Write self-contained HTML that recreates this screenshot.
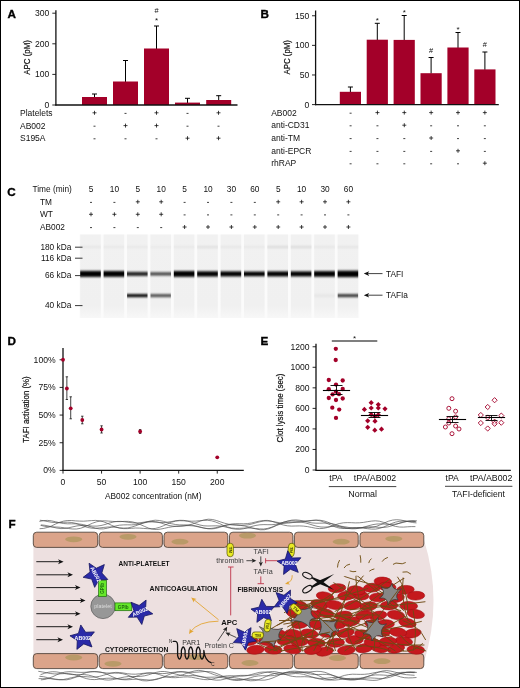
<!DOCTYPE html>
<html><head><meta charset="utf-8"><title>Figure</title>
<style>
html,body{margin:0;padding:0;background:#fff;}
body{width:520px;height:688px;overflow:hidden;}
svg{display:block;font-family:"Liberation Sans",sans-serif;will-change:transform;}
</style></head><body>
<svg width="520" height="688" viewBox="0 0 520 688">
<rect x="0" y="0" width="520" height="688" fill="#fff"/>
<text x="7.60" y="17.70" font-size="11.7" text-anchor="start" font-weight="bold" fill="#000"  stroke="#000" stroke-width="0.35">A</text>
<line x1="94.50" y1="97.50" x2="94.50" y2="94.00" stroke="#000" stroke-width="1.0" />
<line x1="92.00" y1="94.00" x2="97.00" y2="94.00" stroke="#000" stroke-width="1.0" />
<rect x="82.00" y="97.00" width="25.00" height="8.00" fill="#a30029" />
<line x1="125.50" y1="82.00" x2="125.50" y2="60.50" stroke="#000" stroke-width="1.0" />
<line x1="123.00" y1="60.50" x2="128.00" y2="60.50" stroke="#000" stroke-width="1.0" />
<rect x="113.00" y="81.50" width="25.00" height="23.50" fill="#a30029" />
<line x1="156.50" y1="49.00" x2="156.50" y2="26.00" stroke="#000" stroke-width="1.0" />
<line x1="154.00" y1="26.00" x2="159.00" y2="26.00" stroke="#000" stroke-width="1.0" />
<rect x="144.00" y="48.50" width="25.00" height="56.50" fill="#a30029" />
<line x1="187.50" y1="103.10" x2="187.50" y2="98.30" stroke="#000" stroke-width="1.0" />
<line x1="185.00" y1="98.30" x2="190.00" y2="98.30" stroke="#000" stroke-width="1.0" />
<rect x="175.00" y="102.60" width="25.00" height="2.40" fill="#a30029" />
<line x1="218.70" y1="100.50" x2="218.70" y2="95.70" stroke="#000" stroke-width="1.0" />
<line x1="216.20" y1="95.70" x2="221.20" y2="95.70" stroke="#000" stroke-width="1.0" />
<rect x="206.20" y="100.00" width="25.00" height="5.00" fill="#a30029" />
<line x1="55.90" y1="10.30" x2="55.90" y2="105.60" stroke="#111" stroke-width="1.3" />
<line x1="55.30" y1="105.00" x2="237.50" y2="105.00" stroke="#111" stroke-width="1.3" />
<line x1="52.30" y1="105.00" x2="55.90" y2="105.00" stroke="#111" stroke-width="0.9" />
<text x="49.40" y="108.00" font-size="8.6" text-anchor="end" font-weight="normal" fill="#111" >0</text>
<line x1="52.30" y1="74.40" x2="55.90" y2="74.40" stroke="#111" stroke-width="0.9" />
<text x="49.40" y="77.40" font-size="8.6" text-anchor="end" font-weight="normal" fill="#111" >100</text>
<line x1="52.30" y1="43.80" x2="55.90" y2="43.80" stroke="#111" stroke-width="0.9" />
<text x="49.40" y="46.80" font-size="8.6" text-anchor="end" font-weight="normal" fill="#111" >200</text>
<line x1="52.30" y1="13.20" x2="55.90" y2="13.20" stroke="#111" stroke-width="0.9" />
<text x="49.40" y="16.20" font-size="8.6" text-anchor="end" font-weight="normal" fill="#111" >300</text>
<text transform="translate(29.80,74.70) rotate(-90)" font-size="9.6" textLength="34.6" lengthAdjust="spacingAndGlyphs" fill="#111" stroke="#111" stroke-width="0.2">APC (pM)</text>
<text x="156.50" y="13.40" font-size="7.4" text-anchor="middle" font-weight="normal" fill="#111" >#</text>
<text x="156.50" y="23.00" font-size="8" text-anchor="middle" font-weight="normal" fill="#111" >*</text>
<text x="20.00" y="115.80" font-size="8.5" text-anchor="start" font-weight="normal" fill="#111" >Platelets</text>
<line x1="92.50" y1="112.80" x2="96.50" y2="112.80" stroke="#111" stroke-width="0.8" />
<line x1="94.50" y1="110.80" x2="94.50" y2="114.80" stroke="#111" stroke-width="0.8" />
<line x1="124.50" y1="113.40" x2="126.50" y2="113.40" stroke="#111" stroke-width="0.8" />
<line x1="154.50" y1="112.80" x2="158.50" y2="112.80" stroke="#111" stroke-width="0.8" />
<line x1="156.50" y1="110.80" x2="156.50" y2="114.80" stroke="#111" stroke-width="0.8" />
<line x1="186.50" y1="113.40" x2="188.50" y2="113.40" stroke="#111" stroke-width="0.8" />
<line x1="216.50" y1="112.80" x2="220.50" y2="112.80" stroke="#111" stroke-width="0.8" />
<line x1="218.50" y1="110.80" x2="218.50" y2="114.80" stroke="#111" stroke-width="0.8" />
<text x="20.00" y="128.60" font-size="8.5" text-anchor="start" font-weight="normal" fill="#111" >AB002</text>
<line x1="93.50" y1="126.20" x2="95.50" y2="126.20" stroke="#111" stroke-width="0.8" />
<line x1="123.50" y1="125.60" x2="127.50" y2="125.60" stroke="#111" stroke-width="0.8" />
<line x1="125.50" y1="123.60" x2="125.50" y2="127.60" stroke="#111" stroke-width="0.8" />
<line x1="154.50" y1="125.60" x2="158.50" y2="125.60" stroke="#111" stroke-width="0.8" />
<line x1="156.50" y1="123.60" x2="156.50" y2="127.60" stroke="#111" stroke-width="0.8" />
<line x1="186.50" y1="126.20" x2="188.50" y2="126.20" stroke="#111" stroke-width="0.8" />
<line x1="217.50" y1="126.20" x2="219.50" y2="126.20" stroke="#111" stroke-width="0.8" />
<text x="20.00" y="141.20" font-size="8.5" text-anchor="start" font-weight="normal" fill="#111" >S195A</text>
<line x1="93.50" y1="138.80" x2="95.50" y2="138.80" stroke="#111" stroke-width="0.8" />
<line x1="124.50" y1="138.80" x2="126.50" y2="138.80" stroke="#111" stroke-width="0.8" />
<line x1="155.50" y1="138.80" x2="157.50" y2="138.80" stroke="#111" stroke-width="0.8" />
<line x1="185.50" y1="138.20" x2="189.50" y2="138.20" stroke="#111" stroke-width="0.8" />
<line x1="187.50" y1="136.20" x2="187.50" y2="140.20" stroke="#111" stroke-width="0.8" />
<line x1="216.50" y1="138.20" x2="220.50" y2="138.20" stroke="#111" stroke-width="0.8" />
<line x1="218.50" y1="136.20" x2="218.50" y2="140.20" stroke="#111" stroke-width="0.8" />
<text x="260.40" y="17.60" font-size="11.7" text-anchor="start" font-weight="bold" fill="#000"  stroke="#000" stroke-width="0.35">B</text>
<line x1="350.40" y1="92.30" x2="350.40" y2="87.00" stroke="#000" stroke-width="1.0" />
<line x1="347.90" y1="87.00" x2="352.90" y2="87.00" stroke="#000" stroke-width="1.0" />
<rect x="339.80" y="91.80" width="21.20" height="12.80" fill="#a30029" />
<line x1="377.30" y1="40.20" x2="377.30" y2="23.30" stroke="#000" stroke-width="1.0" />
<line x1="374.80" y1="23.30" x2="379.80" y2="23.30" stroke="#000" stroke-width="1.0" />
<rect x="366.70" y="39.70" width="21.20" height="64.90" fill="#a30029" />
<text x="377.30" y="23.10" font-size="8" text-anchor="middle" font-weight="normal" fill="#111" >*</text>
<line x1="404.20" y1="40.40" x2="404.20" y2="15.50" stroke="#000" stroke-width="1.0" />
<line x1="401.70" y1="15.50" x2="406.70" y2="15.50" stroke="#000" stroke-width="1.0" />
<rect x="393.60" y="39.90" width="21.20" height="64.70" fill="#a30029" />
<text x="404.20" y="15.30" font-size="8" text-anchor="middle" font-weight="normal" fill="#111" >*</text>
<line x1="431.10" y1="73.70" x2="431.10" y2="57.50" stroke="#000" stroke-width="1.0" />
<line x1="428.60" y1="57.50" x2="433.60" y2="57.50" stroke="#000" stroke-width="1.0" />
<rect x="420.50" y="73.20" width="21.20" height="31.40" fill="#a30029" />
<text x="431.10" y="52.70" font-size="7.4" text-anchor="middle" font-weight="normal" fill="#111" >#</text>
<line x1="458.00" y1="48.00" x2="458.00" y2="32.50" stroke="#000" stroke-width="1.0" />
<line x1="455.50" y1="32.50" x2="460.50" y2="32.50" stroke="#000" stroke-width="1.0" />
<rect x="447.40" y="47.50" width="21.20" height="57.10" fill="#a30029" />
<text x="458.00" y="32.30" font-size="8" text-anchor="middle" font-weight="normal" fill="#111" >*</text>
<line x1="484.90" y1="69.90" x2="484.90" y2="52.00" stroke="#000" stroke-width="1.0" />
<line x1="482.40" y1="52.00" x2="487.40" y2="52.00" stroke="#000" stroke-width="1.0" />
<rect x="474.30" y="69.40" width="21.20" height="35.20" fill="#a30029" />
<text x="484.90" y="47.20" font-size="7.4" text-anchor="middle" font-weight="normal" fill="#111" >#</text>
<line x1="315.60" y1="10.50" x2="315.60" y2="105.20" stroke="#111" stroke-width="1.3" />
<line x1="315.00" y1="104.60" x2="498.80" y2="104.60" stroke="#111" stroke-width="1.3" />
<line x1="312.00" y1="104.60" x2="315.60" y2="104.60" stroke="#111" stroke-width="0.9" />
<text x="309.30" y="107.60" font-size="8.6" text-anchor="end" font-weight="normal" fill="#111" >0</text>
<line x1="312.00" y1="74.98" x2="315.60" y2="74.98" stroke="#111" stroke-width="0.9" />
<text x="309.30" y="77.98" font-size="8.6" text-anchor="end" font-weight="normal" fill="#111" >50</text>
<line x1="312.00" y1="45.37" x2="315.60" y2="45.37" stroke="#111" stroke-width="0.9" />
<text x="309.30" y="48.37" font-size="8.6" text-anchor="end" font-weight="normal" fill="#111" >100</text>
<line x1="312.00" y1="15.75" x2="315.60" y2="15.75" stroke="#111" stroke-width="0.9" />
<text x="309.30" y="18.75" font-size="8.6" text-anchor="end" font-weight="normal" fill="#111" >150</text>
<text transform="translate(289.80,74.60) rotate(-90)" font-size="9.6" textLength="34.6" lengthAdjust="spacingAndGlyphs" fill="#111" stroke="#111" stroke-width="0.2">APC (pM)</text>
<text x="271.20" y="115.60" font-size="8.5" text-anchor="start" font-weight="normal" fill="#111" >AB002</text>
<line x1="349.60" y1="113.20" x2="351.60" y2="113.20" stroke="#111" stroke-width="0.8" />
<line x1="375.45" y1="112.60" x2="379.45" y2="112.60" stroke="#111" stroke-width="0.8" />
<line x1="377.45" y1="110.60" x2="377.45" y2="114.60" stroke="#111" stroke-width="0.8" />
<line x1="402.30" y1="112.60" x2="406.30" y2="112.60" stroke="#111" stroke-width="0.8" />
<line x1="404.30" y1="110.60" x2="404.30" y2="114.60" stroke="#111" stroke-width="0.8" />
<line x1="429.15" y1="112.60" x2="433.15" y2="112.60" stroke="#111" stroke-width="0.8" />
<line x1="431.15" y1="110.60" x2="431.15" y2="114.60" stroke="#111" stroke-width="0.8" />
<line x1="456.00" y1="112.60" x2="460.00" y2="112.60" stroke="#111" stroke-width="0.8" />
<line x1="458.00" y1="110.60" x2="458.00" y2="114.60" stroke="#111" stroke-width="0.8" />
<line x1="482.85" y1="112.60" x2="486.85" y2="112.60" stroke="#111" stroke-width="0.8" />
<line x1="484.85" y1="110.60" x2="484.85" y2="114.60" stroke="#111" stroke-width="0.8" />
<text x="271.20" y="128.20" font-size="8.5" text-anchor="start" font-weight="normal" fill="#111" >anti-CD31</text>
<line x1="349.60" y1="125.80" x2="351.60" y2="125.80" stroke="#111" stroke-width="0.8" />
<line x1="376.45" y1="125.80" x2="378.45" y2="125.80" stroke="#111" stroke-width="0.8" />
<line x1="402.30" y1="125.20" x2="406.30" y2="125.20" stroke="#111" stroke-width="0.8" />
<line x1="404.30" y1="123.20" x2="404.30" y2="127.20" stroke="#111" stroke-width="0.8" />
<line x1="430.15" y1="125.80" x2="432.15" y2="125.80" stroke="#111" stroke-width="0.8" />
<line x1="457.00" y1="125.80" x2="459.00" y2="125.80" stroke="#111" stroke-width="0.8" />
<line x1="483.85" y1="125.80" x2="485.85" y2="125.80" stroke="#111" stroke-width="0.8" />
<text x="271.20" y="141.00" font-size="8.5" text-anchor="start" font-weight="normal" fill="#111" >anti-TM</text>
<line x1="349.60" y1="138.60" x2="351.60" y2="138.60" stroke="#111" stroke-width="0.8" />
<line x1="376.45" y1="138.60" x2="378.45" y2="138.60" stroke="#111" stroke-width="0.8" />
<line x1="403.30" y1="138.60" x2="405.30" y2="138.60" stroke="#111" stroke-width="0.8" />
<line x1="429.15" y1="138.00" x2="433.15" y2="138.00" stroke="#111" stroke-width="0.8" />
<line x1="431.15" y1="136.00" x2="431.15" y2="140.00" stroke="#111" stroke-width="0.8" />
<line x1="457.00" y1="138.60" x2="459.00" y2="138.60" stroke="#111" stroke-width="0.8" />
<line x1="483.85" y1="138.60" x2="485.85" y2="138.60" stroke="#111" stroke-width="0.8" />
<text x="271.20" y="153.80" font-size="8.5" text-anchor="start" font-weight="normal" fill="#111" >anti-EPCR</text>
<line x1="349.60" y1="151.40" x2="351.60" y2="151.40" stroke="#111" stroke-width="0.8" />
<line x1="376.45" y1="151.40" x2="378.45" y2="151.40" stroke="#111" stroke-width="0.8" />
<line x1="403.30" y1="151.40" x2="405.30" y2="151.40" stroke="#111" stroke-width="0.8" />
<line x1="430.15" y1="151.40" x2="432.15" y2="151.40" stroke="#111" stroke-width="0.8" />
<line x1="456.00" y1="150.80" x2="460.00" y2="150.80" stroke="#111" stroke-width="0.8" />
<line x1="458.00" y1="148.80" x2="458.00" y2="152.80" stroke="#111" stroke-width="0.8" />
<line x1="483.85" y1="151.40" x2="485.85" y2="151.40" stroke="#111" stroke-width="0.8" />
<text x="271.20" y="166.20" font-size="8.5" text-anchor="start" font-weight="normal" fill="#111" >rhRAP</text>
<line x1="349.60" y1="163.80" x2="351.60" y2="163.80" stroke="#111" stroke-width="0.8" />
<line x1="376.45" y1="163.80" x2="378.45" y2="163.80" stroke="#111" stroke-width="0.8" />
<line x1="403.30" y1="163.80" x2="405.30" y2="163.80" stroke="#111" stroke-width="0.8" />
<line x1="430.15" y1="163.80" x2="432.15" y2="163.80" stroke="#111" stroke-width="0.8" />
<line x1="457.00" y1="163.80" x2="459.00" y2="163.80" stroke="#111" stroke-width="0.8" />
<line x1="482.85" y1="163.20" x2="486.85" y2="163.20" stroke="#111" stroke-width="0.8" />
<line x1="484.85" y1="161.20" x2="484.85" y2="165.20" stroke="#111" stroke-width="0.8" />
<text x="7.30" y="195.60" font-size="11.7" text-anchor="start" font-weight="bold" fill="#000"  stroke="#000" stroke-width="0.35">C</text>
<text x="32.50" y="192.20" font-size="8.3" text-anchor="start" font-weight="normal" fill="#111" >Time (min)</text>
<text x="40.00" y="204.60" font-size="8.3" text-anchor="start" font-weight="normal" fill="#111" >TM</text>
<text x="40.00" y="217.30" font-size="8.3" text-anchor="start" font-weight="normal" fill="#111" >WT</text>
<text x="40.00" y="230.00" font-size="8.3" text-anchor="start" font-weight="normal" fill="#111" >AB002</text>
<text x="91.00" y="192.20" font-size="8.3" text-anchor="middle" font-weight="normal" fill="#111" >5</text>
<line x1="90.00" y1="202.40" x2="92.00" y2="202.40" stroke="#111" stroke-width="0.8" />
<line x1="89.00" y1="214.30" x2="93.00" y2="214.30" stroke="#111" stroke-width="0.8" />
<line x1="91.00" y1="212.30" x2="91.00" y2="216.30" stroke="#111" stroke-width="0.8" />
<line x1="90.00" y1="227.60" x2="92.00" y2="227.60" stroke="#111" stroke-width="0.8" />
<text x="114.40" y="192.20" font-size="8.3" text-anchor="middle" font-weight="normal" fill="#111" >10</text>
<line x1="113.40" y1="202.40" x2="115.40" y2="202.40" stroke="#111" stroke-width="0.8" />
<line x1="112.40" y1="214.30" x2="116.40" y2="214.30" stroke="#111" stroke-width="0.8" />
<line x1="114.40" y1="212.30" x2="114.40" y2="216.30" stroke="#111" stroke-width="0.8" />
<line x1="113.40" y1="227.60" x2="115.40" y2="227.60" stroke="#111" stroke-width="0.8" />
<text x="137.80" y="192.20" font-size="8.3" text-anchor="middle" font-weight="normal" fill="#111" >5</text>
<line x1="135.80" y1="201.80" x2="139.80" y2="201.80" stroke="#111" stroke-width="0.8" />
<line x1="137.80" y1="199.80" x2="137.80" y2="203.80" stroke="#111" stroke-width="0.8" />
<line x1="135.80" y1="214.30" x2="139.80" y2="214.30" stroke="#111" stroke-width="0.8" />
<line x1="137.80" y1="212.30" x2="137.80" y2="216.30" stroke="#111" stroke-width="0.8" />
<line x1="136.80" y1="227.60" x2="138.80" y2="227.60" stroke="#111" stroke-width="0.8" />
<text x="161.20" y="192.20" font-size="8.3" text-anchor="middle" font-weight="normal" fill="#111" >10</text>
<line x1="159.20" y1="201.80" x2="163.20" y2="201.80" stroke="#111" stroke-width="0.8" />
<line x1="161.20" y1="199.80" x2="161.20" y2="203.80" stroke="#111" stroke-width="0.8" />
<line x1="159.20" y1="214.30" x2="163.20" y2="214.30" stroke="#111" stroke-width="0.8" />
<line x1="161.20" y1="212.30" x2="161.20" y2="216.30" stroke="#111" stroke-width="0.8" />
<line x1="160.20" y1="227.60" x2="162.20" y2="227.60" stroke="#111" stroke-width="0.8" />
<text x="184.60" y="192.20" font-size="8.3" text-anchor="middle" font-weight="normal" fill="#111" >5</text>
<line x1="183.60" y1="202.40" x2="185.60" y2="202.40" stroke="#111" stroke-width="0.8" />
<line x1="183.60" y1="214.90" x2="185.60" y2="214.90" stroke="#111" stroke-width="0.8" />
<line x1="182.60" y1="227.00" x2="186.60" y2="227.00" stroke="#111" stroke-width="0.8" />
<line x1="184.60" y1="225.00" x2="184.60" y2="229.00" stroke="#111" stroke-width="0.8" />
<text x="208.00" y="192.20" font-size="8.3" text-anchor="middle" font-weight="normal" fill="#111" >10</text>
<line x1="207.00" y1="202.40" x2="209.00" y2="202.40" stroke="#111" stroke-width="0.8" />
<line x1="207.00" y1="214.90" x2="209.00" y2="214.90" stroke="#111" stroke-width="0.8" />
<line x1="206.00" y1="227.00" x2="210.00" y2="227.00" stroke="#111" stroke-width="0.8" />
<line x1="208.00" y1="225.00" x2="208.00" y2="229.00" stroke="#111" stroke-width="0.8" />
<text x="231.40" y="192.20" font-size="8.3" text-anchor="middle" font-weight="normal" fill="#111" >30</text>
<line x1="230.40" y1="202.40" x2="232.40" y2="202.40" stroke="#111" stroke-width="0.8" />
<line x1="230.40" y1="214.90" x2="232.40" y2="214.90" stroke="#111" stroke-width="0.8" />
<line x1="229.40" y1="227.00" x2="233.40" y2="227.00" stroke="#111" stroke-width="0.8" />
<line x1="231.40" y1="225.00" x2="231.40" y2="229.00" stroke="#111" stroke-width="0.8" />
<text x="254.80" y="192.20" font-size="8.3" text-anchor="middle" font-weight="normal" fill="#111" >60</text>
<line x1="253.80" y1="202.40" x2="255.80" y2="202.40" stroke="#111" stroke-width="0.8" />
<line x1="253.80" y1="214.90" x2="255.80" y2="214.90" stroke="#111" stroke-width="0.8" />
<line x1="252.80" y1="227.00" x2="256.80" y2="227.00" stroke="#111" stroke-width="0.8" />
<line x1="254.80" y1="225.00" x2="254.80" y2="229.00" stroke="#111" stroke-width="0.8" />
<text x="278.20" y="192.20" font-size="8.3" text-anchor="middle" font-weight="normal" fill="#111" >5</text>
<line x1="276.20" y1="201.80" x2="280.20" y2="201.80" stroke="#111" stroke-width="0.8" />
<line x1="278.20" y1="199.80" x2="278.20" y2="203.80" stroke="#111" stroke-width="0.8" />
<line x1="277.20" y1="214.90" x2="279.20" y2="214.90" stroke="#111" stroke-width="0.8" />
<line x1="276.20" y1="227.00" x2="280.20" y2="227.00" stroke="#111" stroke-width="0.8" />
<line x1="278.20" y1="225.00" x2="278.20" y2="229.00" stroke="#111" stroke-width="0.8" />
<text x="301.60" y="192.20" font-size="8.3" text-anchor="middle" font-weight="normal" fill="#111" >10</text>
<line x1="299.60" y1="201.80" x2="303.60" y2="201.80" stroke="#111" stroke-width="0.8" />
<line x1="301.60" y1="199.80" x2="301.60" y2="203.80" stroke="#111" stroke-width="0.8" />
<line x1="300.60" y1="214.90" x2="302.60" y2="214.90" stroke="#111" stroke-width="0.8" />
<line x1="299.60" y1="227.00" x2="303.60" y2="227.00" stroke="#111" stroke-width="0.8" />
<line x1="301.60" y1="225.00" x2="301.60" y2="229.00" stroke="#111" stroke-width="0.8" />
<text x="325.00" y="192.20" font-size="8.3" text-anchor="middle" font-weight="normal" fill="#111" >30</text>
<line x1="323.00" y1="201.80" x2="327.00" y2="201.80" stroke="#111" stroke-width="0.8" />
<line x1="325.00" y1="199.80" x2="325.00" y2="203.80" stroke="#111" stroke-width="0.8" />
<line x1="324.00" y1="214.90" x2="326.00" y2="214.90" stroke="#111" stroke-width="0.8" />
<line x1="323.00" y1="227.00" x2="327.00" y2="227.00" stroke="#111" stroke-width="0.8" />
<line x1="325.00" y1="225.00" x2="325.00" y2="229.00" stroke="#111" stroke-width="0.8" />
<text x="348.40" y="192.20" font-size="8.3" text-anchor="middle" font-weight="normal" fill="#111" >60</text>
<line x1="346.40" y1="201.80" x2="350.40" y2="201.80" stroke="#111" stroke-width="0.8" />
<line x1="348.40" y1="199.80" x2="348.40" y2="203.80" stroke="#111" stroke-width="0.8" />
<line x1="347.40" y1="214.90" x2="349.40" y2="214.90" stroke="#111" stroke-width="0.8" />
<line x1="346.40" y1="227.00" x2="350.40" y2="227.00" stroke="#111" stroke-width="0.8" />
<line x1="348.40" y1="225.00" x2="348.40" y2="229.00" stroke="#111" stroke-width="0.8" />
<defs><linearGradient id="lane" x1="0" y1="0" x2="0" y2="1"><stop offset="0" stop-color="#f1f1f1"/><stop offset="0.85" stop-color="#f0f0f0"/><stop offset="1" stop-color="#f7f7f7"/></linearGradient><linearGradient id="band" x1="0" y1="0" x2="0" y2="1"><stop offset="0" stop-color="#000" stop-opacity="0"/><stop offset="0.22" stop-color="#000" stop-opacity="1"/><stop offset="0.78" stop-color="#000" stop-opacity="1"/><stop offset="1" stop-color="#000" stop-opacity="0"/></linearGradient></defs>
<filter id="blr" x="-10%" y="-60%" width="120%" height="220%"><feGaussianBlur stdDeviation="0.45 0.85"/></filter>
<rect x="79.60" y="234.50" width="279.60" height="83.50" fill="#fbfbfb" />
<rect x="80.20" y="234.50" width="20.60" height="83.50" fill="url(#lane)" />
<rect x="103.60" y="234.50" width="20.60" height="83.50" fill="url(#lane)" />
<rect x="127.00" y="234.50" width="20.60" height="83.50" fill="url(#lane)" />
<rect x="150.40" y="234.50" width="20.60" height="83.50" fill="url(#lane)" />
<rect x="173.80" y="234.50" width="20.60" height="83.50" fill="url(#lane)" />
<rect x="197.20" y="234.50" width="20.60" height="83.50" fill="url(#lane)" />
<rect x="220.60" y="234.50" width="20.60" height="83.50" fill="url(#lane)" />
<rect x="244.00" y="234.50" width="20.60" height="83.50" fill="url(#lane)" />
<rect x="267.40" y="234.50" width="20.60" height="83.50" fill="url(#lane)" />
<rect x="290.80" y="234.50" width="20.60" height="83.50" fill="url(#lane)" />
<rect x="314.20" y="234.50" width="20.60" height="83.50" fill="url(#lane)" />
<rect x="337.60" y="234.50" width="20.60" height="83.50" fill="url(#lane)" />
<g filter="url(#blr)">
<rect x="80.00" y="246.30" width="21.00" height="1.60" fill="#000" opacity="0.06"/>
<rect x="80.20" y="270.90" width="20.60" height="6.00" fill="#000" opacity="1"/>
<rect x="103.40" y="246.30" width="21.00" height="1.60" fill="#000" opacity="0.05"/>
<rect x="103.60" y="271.00" width="20.60" height="5.80" fill="#000" opacity="1"/>
<rect x="126.80" y="246.30" width="21.00" height="1.60" fill="#000" opacity="0.05"/>
<rect x="127.00" y="271.90" width="20.60" height="4.00" fill="#000" opacity="0.86"/>
<rect x="127.10" y="294.10" width="20.40" height="3.00" fill="#000" opacity="1.0"/>
<rect x="150.20" y="246.30" width="21.00" height="1.60" fill="#000" opacity="0.04"/>
<rect x="150.40" y="272.30" width="20.60" height="3.20" fill="#000" opacity="0.72"/>
<rect x="150.50" y="294.10" width="20.40" height="3.00" fill="#000" opacity="0.68"/>
<rect x="173.60" y="246.30" width="21.00" height="1.60" fill="#000" opacity="0.05"/>
<rect x="173.80" y="271.00" width="20.60" height="5.80" fill="#000" opacity="1"/>
<rect x="197.00" y="246.30" width="21.00" height="1.60" fill="#000" opacity="0.1"/>
<rect x="197.20" y="271.30" width="20.60" height="5.20" fill="#000" opacity="1"/>
<rect x="220.40" y="246.30" width="21.00" height="1.60" fill="#000" opacity="0.06"/>
<rect x="220.60" y="271.40" width="20.60" height="5.00" fill="#000" opacity="1"/>
<rect x="243.80" y="246.30" width="21.00" height="1.60" fill="#000" opacity="0.05"/>
<rect x="244.00" y="271.60" width="20.60" height="4.60" fill="#000" opacity="1"/>
<rect x="267.20" y="246.30" width="21.00" height="1.60" fill="#000" opacity="0.13"/>
<rect x="267.40" y="271.40" width="20.60" height="5.00" fill="#000" opacity="1"/>
<rect x="290.60" y="246.30" width="21.00" height="1.60" fill="#000" opacity="0.13"/>
<rect x="290.80" y="271.40" width="20.60" height="5.00" fill="#000" opacity="1"/>
<rect x="314.00" y="246.30" width="21.00" height="1.60" fill="#000" opacity="0.06"/>
<rect x="314.20" y="271.10" width="20.60" height="5.60" fill="#000" opacity="1"/>
<rect x="314.30" y="294.10" width="20.40" height="3.00" fill="#000" opacity="0.04"/>
<rect x="337.40" y="246.30" width="21.00" height="1.60" fill="#000" opacity="0.07"/>
<rect x="337.60" y="270.70" width="20.60" height="6.40" fill="#000" opacity="1"/>
<rect x="337.70" y="294.10" width="20.40" height="3.00" fill="#000" opacity="0.78"/>
</g>
<text x="71.30" y="249.90" font-size="8.3" text-anchor="end" font-weight="normal" fill="#111" >180 kDa</text>
<line x1="75.00" y1="247.20" x2="82.50" y2="247.20" stroke="#222" stroke-width="0.9" />
<text x="71.30" y="260.90" font-size="8.3" text-anchor="end" font-weight="normal" fill="#111" >116 kDa</text>
<line x1="75.00" y1="258.20" x2="82.50" y2="258.20" stroke="#222" stroke-width="0.9" />
<text x="71.30" y="278.30" font-size="8.3" text-anchor="end" font-weight="normal" fill="#111" >66 kDa</text>
<line x1="75.00" y1="275.60" x2="82.50" y2="275.60" stroke="#222" stroke-width="0.9" />
<text x="71.30" y="308.30" font-size="8.3" text-anchor="end" font-weight="normal" fill="#111" >40 kDa</text>
<line x1="75.00" y1="305.60" x2="82.50" y2="305.60" stroke="#222" stroke-width="0.9" />
<line x1="366.00" y1="273.60" x2="382.50" y2="273.60" stroke="#111" stroke-width="0.8" />
<path d="M363.8 273.6 L369.2 271.3 L367.8 273.6 L369.2 275.90000000000003 Z" fill="#111"/>
<text x="386.00" y="276.60" font-size="8.3" text-anchor="start" font-weight="normal" fill="#111" >TAFI</text>
<line x1="366.00" y1="295.20" x2="382.50" y2="295.20" stroke="#111" stroke-width="0.8" />
<path d="M363.8 295.2 L369.2 292.9 L367.8 295.2 L369.2 297.5 Z" fill="#111"/>
<text x="386.00" y="298.20" font-size="8.3" text-anchor="start" font-weight="normal" fill="#111" >TAFIa</text>
<text x="7.60" y="345.20" font-size="11.7" text-anchor="start" font-weight="bold" fill="#000"  stroke="#000" stroke-width="0.35">D</text>
<line x1="63.00" y1="348.00" x2="63.00" y2="471.00" stroke="#111" stroke-width="1.3" />
<line x1="62.40" y1="470.40" x2="243.80" y2="470.40" stroke="#111" stroke-width="1.3" />
<line x1="59.60" y1="470.40" x2="63.00" y2="470.40" stroke="#111" stroke-width="0.9" />
<text x="55.60" y="473.40" font-size="8.6" text-anchor="end" font-weight="normal" fill="#111" >0%</text>
<line x1="59.60" y1="442.74" x2="63.00" y2="442.74" stroke="#111" stroke-width="0.9" />
<text x="55.60" y="445.74" font-size="8.6" text-anchor="end" font-weight="normal" fill="#111" >25%</text>
<line x1="59.60" y1="415.07" x2="63.00" y2="415.07" stroke="#111" stroke-width="0.9" />
<text x="55.60" y="418.07" font-size="8.6" text-anchor="end" font-weight="normal" fill="#111" >50%</text>
<line x1="59.60" y1="387.41" x2="63.00" y2="387.41" stroke="#111" stroke-width="0.9" />
<text x="55.60" y="390.41" font-size="8.6" text-anchor="end" font-weight="normal" fill="#111" >75%</text>
<line x1="59.60" y1="359.75" x2="63.00" y2="359.75" stroke="#111" stroke-width="0.9" />
<text x="55.60" y="362.75" font-size="8.6" text-anchor="end" font-weight="normal" fill="#111" >100%</text>
<line x1="63.00" y1="470.40" x2="63.00" y2="473.60" stroke="#111" stroke-width="0.9" />
<text x="63.00" y="485.00" font-size="8.6" text-anchor="middle" font-weight="normal" fill="#111" >0</text>
<line x1="101.56" y1="470.40" x2="101.56" y2="473.60" stroke="#111" stroke-width="0.9" />
<text x="101.56" y="485.00" font-size="8.6" text-anchor="middle" font-weight="normal" fill="#111" >50</text>
<line x1="140.12" y1="470.40" x2="140.12" y2="473.60" stroke="#111" stroke-width="0.9" />
<text x="140.12" y="485.00" font-size="8.6" text-anchor="middle" font-weight="normal" fill="#111" >100</text>
<line x1="178.69" y1="470.40" x2="178.69" y2="473.60" stroke="#111" stroke-width="0.9" />
<text x="178.69" y="485.00" font-size="8.6" text-anchor="middle" font-weight="normal" fill="#111" >150</text>
<line x1="217.25" y1="470.40" x2="217.25" y2="473.60" stroke="#111" stroke-width="0.9" />
<text x="217.25" y="485.00" font-size="8.6" text-anchor="middle" font-weight="normal" fill="#111" >200</text>
<text transform="translate(29.40,442.75) rotate(-90)" font-size="9.6" textLength="66.5" lengthAdjust="spacingAndGlyphs" fill="#111" stroke="#111" stroke-width="0.2">TAFI activation (%)</text>
<text x="105.00" y="498.80" font-size="9.6" textLength="96.50" lengthAdjust="spacingAndGlyphs" fill="#111" font-weight="normal">AB002 concentration (nM)</text>
<circle cx="63.00" cy="359.75" r="1.9" fill="#a30029"/>
<line x1="66.86" y1="376.80" x2="66.86" y2="399.50" stroke="#111" stroke-width="0.8" />
<line x1="65.66" y1="376.80" x2="68.06" y2="376.80" stroke="#111" stroke-width="0.8" />
<line x1="65.66" y1="399.50" x2="68.06" y2="399.50" stroke="#111" stroke-width="0.8" />
<circle cx="66.86" cy="388.50" r="1.9" fill="#a30029"/>
<line x1="70.71" y1="396.80" x2="70.71" y2="418.80" stroke="#111" stroke-width="0.8" />
<line x1="69.51" y1="396.80" x2="71.91" y2="396.80" stroke="#111" stroke-width="0.8" />
<line x1="69.51" y1="418.80" x2="71.91" y2="418.80" stroke="#111" stroke-width="0.8" />
<circle cx="70.71" cy="408.30" r="1.9" fill="#a30029"/>
<line x1="82.28" y1="416.20" x2="82.28" y2="423.80" stroke="#111" stroke-width="0.8" />
<line x1="81.08" y1="416.20" x2="83.48" y2="416.20" stroke="#111" stroke-width="0.8" />
<line x1="81.08" y1="423.80" x2="83.48" y2="423.80" stroke="#111" stroke-width="0.8" />
<circle cx="82.28" cy="420.00" r="1.9" fill="#a30029"/>
<line x1="101.56" y1="425.80" x2="101.56" y2="433.00" stroke="#111" stroke-width="0.8" />
<line x1="100.36" y1="425.80" x2="102.76" y2="425.80" stroke="#111" stroke-width="0.8" />
<line x1="100.36" y1="433.00" x2="102.76" y2="433.00" stroke="#111" stroke-width="0.8" />
<circle cx="101.56" cy="429.50" r="1.9" fill="#a30029"/>
<line x1="140.12" y1="429.60" x2="140.12" y2="433.40" stroke="#111" stroke-width="0.8" />
<line x1="138.93" y1="429.60" x2="141.32" y2="429.60" stroke="#111" stroke-width="0.8" />
<line x1="138.93" y1="433.40" x2="141.32" y2="433.40" stroke="#111" stroke-width="0.8" />
<circle cx="140.12" cy="431.50" r="1.9" fill="#a30029"/>
<circle cx="217.25" cy="457.30" r="1.9" fill="#a30029"/>
<text x="260.40" y="344.60" font-size="11.7" text-anchor="start" font-weight="bold" fill="#000"  stroke="#000" stroke-width="0.35">E</text>
<line x1="316.00" y1="343.80" x2="316.00" y2="470.60" stroke="#111" stroke-width="1.3" />
<line x1="315.40" y1="470.40" x2="510.80" y2="470.40" stroke="#111" stroke-width="1.3" />
<line x1="312.60" y1="470.00" x2="316.00" y2="470.00" stroke="#111" stroke-width="0.9" />
<text x="309.60" y="473.00" font-size="8.6" text-anchor="end" font-weight="normal" fill="#111" >0</text>
<line x1="312.60" y1="449.46" x2="316.00" y2="449.46" stroke="#111" stroke-width="0.9" />
<text x="309.60" y="452.46" font-size="8.6" text-anchor="end" font-weight="normal" fill="#111" >200</text>
<line x1="312.60" y1="428.92" x2="316.00" y2="428.92" stroke="#111" stroke-width="0.9" />
<text x="309.60" y="431.92" font-size="8.6" text-anchor="end" font-weight="normal" fill="#111" >400</text>
<line x1="312.60" y1="408.38" x2="316.00" y2="408.38" stroke="#111" stroke-width="0.9" />
<text x="309.60" y="411.38" font-size="8.6" text-anchor="end" font-weight="normal" fill="#111" >600</text>
<line x1="312.60" y1="387.83" x2="316.00" y2="387.83" stroke="#111" stroke-width="0.9" />
<text x="309.60" y="390.83" font-size="8.6" text-anchor="end" font-weight="normal" fill="#111" >800</text>
<line x1="312.60" y1="367.29" x2="316.00" y2="367.29" stroke="#111" stroke-width="0.9" />
<text x="309.60" y="370.29" font-size="8.6" text-anchor="end" font-weight="normal" fill="#111" >1000</text>
<line x1="312.60" y1="346.75" x2="316.00" y2="346.75" stroke="#111" stroke-width="0.9" />
<text x="309.60" y="349.75" font-size="8.6" text-anchor="end" font-weight="normal" fill="#111" >1200</text>
<text transform="translate(282.60,442.50) rotate(-90)" font-size="9.6" textLength="69.0" lengthAdjust="spacingAndGlyphs" fill="#111" stroke="#111" stroke-width="0.2">Clot lysis time (sec)</text>
<line x1="331.80" y1="341.00" x2="377.30" y2="341.00" stroke="#000" stroke-width="1.1" />
<text x="354.50" y="340.90" font-size="8" text-anchor="middle" font-weight="normal" fill="#111" >*</text>
<circle cx="335.8" cy="348.8" r="2.15" fill="#a30029"/>
<circle cx="335.7" cy="360.0" r="2.15" fill="#a30029"/>
<circle cx="328.8" cy="380.0" r="2.15" fill="#a30029"/>
<circle cx="342.7" cy="380.5" r="2.15" fill="#a30029"/>
<circle cx="336" cy="384.6" r="2.15" fill="#a30029"/>
<circle cx="328.8" cy="389.2" r="2.15" fill="#a30029"/>
<circle cx="342.7" cy="389.0" r="2.15" fill="#a30029"/>
<circle cx="336" cy="391.7" r="2.15" fill="#a30029"/>
<circle cx="332.6" cy="394.4" r="2.15" fill="#a30029"/>
<circle cx="339.0" cy="394.2" r="2.15" fill="#a30029"/>
<circle cx="328.8" cy="398.0" r="2.15" fill="#a30029"/>
<circle cx="342.7" cy="398.5" r="2.15" fill="#a30029"/>
<circle cx="336" cy="400.0" r="2.15" fill="#a30029"/>
<circle cx="332.3" cy="407.7" r="2.15" fill="#a30029"/>
<circle cx="339.2" cy="409.6" r="2.15" fill="#a30029"/>
<circle cx="336" cy="417.9" r="2.15" fill="#a30029"/>
<path d="M371.2 400.09999999999997 L373.8 402.7 L371.2 405.3 L368.59999999999997 402.7 Z" fill="#a30029" stroke="none" stroke-width="0.9"/>
<path d="M378.3 402.0 L380.90000000000003 404.6 L378.3 407.20000000000005 L375.7 404.6 Z" fill="#a30029" stroke="none" stroke-width="0.9"/>
<path d="M364.4 406.79999999999995 L367.0 409.4 L364.4 412.0 L361.79999999999995 409.4 Z" fill="#a30029" stroke="none" stroke-width="0.9"/>
<path d="M371.2 405.4 L373.8 408.0 L371.2 410.6 L368.59999999999997 408.0 Z" fill="#a30029" stroke="none" stroke-width="0.9"/>
<path d="M378.3 405.4 L380.90000000000003 408.0 L378.3 410.6 L375.7 408.0 Z" fill="#a30029" stroke="none" stroke-width="0.9"/>
<path d="M385.0 406.2 L387.6 408.8 L385.0 411.40000000000003 L382.4 408.8 Z" fill="#a30029" stroke="none" stroke-width="0.9"/>
<path d="M371.2 412.0 L373.8 414.6 L371.2 417.20000000000005 L368.59999999999997 414.6 Z" fill="#a30029" stroke="none" stroke-width="0.9"/>
<path d="M378.3 412.2 L380.90000000000003 414.8 L378.3 417.40000000000003 L375.7 414.8 Z" fill="#a30029" stroke="none" stroke-width="0.9"/>
<path d="M374.8 413.59999999999997 L377.40000000000003 416.2 L374.8 418.8 L372.2 416.2 Z" fill="#a30029" stroke="none" stroke-width="0.9"/>
<path d="M367.7 418.2 L370.3 420.8 L367.7 423.40000000000003 L365.09999999999997 420.8 Z" fill="#a30029" stroke="none" stroke-width="0.9"/>
<path d="M375.0 418.59999999999997 L377.6 421.2 L375.0 423.8 L372.4 421.2 Z" fill="#a30029" stroke="none" stroke-width="0.9"/>
<path d="M367.7 424.7 L370.3 427.3 L367.7 429.90000000000003 L365.09999999999997 427.3 Z" fill="#a30029" stroke="none" stroke-width="0.9"/>
<path d="M374.8 427.59999999999997 L377.40000000000003 430.2 L374.8 432.8 L372.2 430.2 Z" fill="#a30029" stroke="none" stroke-width="0.9"/>
<path d="M381.5 426.59999999999997 L384.1 429.2 L381.5 431.8 L378.9 429.2 Z" fill="#a30029" stroke="none" stroke-width="0.9"/>
<circle cx="452" cy="398.7" r="2.0" fill="#fff" fill-opacity="0.6" stroke="#a30029" stroke-width="0.9"/>
<circle cx="448.8" cy="408.3" r="2.0" fill="#fff" fill-opacity="0.6" stroke="#a30029" stroke-width="0.9"/>
<circle cx="455.6" cy="411.2" r="2.0" fill="#fff" fill-opacity="0.6" stroke="#a30029" stroke-width="0.9"/>
<circle cx="455.6" cy="417.0" r="2.0" fill="#fff" fill-opacity="0.6" stroke="#a30029" stroke-width="0.9"/>
<circle cx="448.8" cy="418.8" r="2.0" fill="#fff" fill-opacity="0.6" stroke="#a30029" stroke-width="0.9"/>
<circle cx="448.8" cy="423.0" r="2.0" fill="#fff" fill-opacity="0.6" stroke="#a30029" stroke-width="0.9"/>
<circle cx="445.4" cy="427.0" r="2.0" fill="#fff" fill-opacity="0.6" stroke="#a30029" stroke-width="0.9"/>
<circle cx="455.6" cy="426.0" r="2.0" fill="#fff" fill-opacity="0.6" stroke="#a30029" stroke-width="0.9"/>
<circle cx="459.0" cy="429.0" r="2.0" fill="#fff" fill-opacity="0.6" stroke="#a30029" stroke-width="0.9"/>
<circle cx="452" cy="433.7" r="2.0" fill="#fff" fill-opacity="0.6" stroke="#a30029" stroke-width="0.9"/>
<path d="M494.6 397.59999999999997 L497.20000000000005 400.2 L494.6 402.8 L492.0 400.2 Z" fill="rgba(255,255,255,0.6)" stroke="#a30029" stroke-width="0.9"/>
<path d="M487.7 404.4 L490.3 407.0 L487.7 409.6 L485.09999999999997 407.0 Z" fill="rgba(255,255,255,0.6)" stroke="#a30029" stroke-width="0.9"/>
<path d="M480.8 412.4 L483.40000000000003 415.0 L480.8 417.6 L478.2 415.0 Z" fill="rgba(255,255,255,0.6)" stroke="#a30029" stroke-width="0.9"/>
<path d="M501.3 413.0 L503.90000000000003 415.6 L501.3 418.20000000000005 L498.7 415.6 Z" fill="rgba(255,255,255,0.6)" stroke="#a30029" stroke-width="0.9"/>
<path d="M487.7 414.9 L490.3 417.5 L487.7 420.1 L485.09999999999997 417.5 Z" fill="rgba(255,255,255,0.6)" stroke="#a30029" stroke-width="0.9"/>
<path d="M494.6 419.09999999999997 L497.20000000000005 421.7 L494.6 424.3 L492.0 421.7 Z" fill="rgba(255,255,255,0.6)" stroke="#a30029" stroke-width="0.9"/>
<path d="M480.8 420.4 L483.40000000000003 423.0 L480.8 425.6 L478.2 423.0 Z" fill="rgba(255,255,255,0.6)" stroke="#a30029" stroke-width="0.9"/>
<path d="M501.3 420.09999999999997 L503.90000000000003 422.7 L501.3 425.3 L498.7 422.7 Z" fill="rgba(255,255,255,0.6)" stroke="#a30029" stroke-width="0.9"/>
<path d="M494.6 421.2 L497.20000000000005 423.8 L494.6 426.40000000000003 L492.0 423.8 Z" fill="rgba(255,255,255,0.6)" stroke="#a30029" stroke-width="0.9"/>
<path d="M487.7 425.9 L490.3 428.5 L487.7 431.1 L485.09999999999997 428.5 Z" fill="rgba(255,255,255,0.6)" stroke="#a30029" stroke-width="0.9"/>
<line x1="322.90" y1="390.50" x2="350.10" y2="390.50" stroke="#000" stroke-width="1.1" />
<line x1="336.50" y1="385.50" x2="336.50" y2="394.50" stroke="#000" stroke-width="0.9" />
<line x1="330.50" y1="385.50" x2="342.50" y2="385.50" stroke="#000" stroke-width="0.9" />
<line x1="330.50" y1="394.50" x2="342.50" y2="394.50" stroke="#000" stroke-width="0.9" />
<line x1="360.90" y1="415.50" x2="388.10" y2="415.50" stroke="#000" stroke-width="1.1" />
<line x1="374.50" y1="412.50" x2="374.50" y2="417.50" stroke="#000" stroke-width="0.9" />
<line x1="368.50" y1="412.50" x2="380.50" y2="412.50" stroke="#000" stroke-width="0.9" />
<line x1="368.50" y1="417.50" x2="380.50" y2="417.50" stroke="#000" stroke-width="0.9" />
<line x1="438.90" y1="419.50" x2="466.10" y2="419.50" stroke="#000" stroke-width="1.1" />
<line x1="452.50" y1="416.50" x2="452.50" y2="422.50" stroke="#000" stroke-width="0.9" />
<line x1="446.50" y1="416.50" x2="458.50" y2="416.50" stroke="#000" stroke-width="0.9" />
<line x1="446.50" y1="422.50" x2="458.50" y2="422.50" stroke="#000" stroke-width="0.9" />
<line x1="477.90" y1="417.50" x2="505.10" y2="417.50" stroke="#000" stroke-width="1.1" />
<line x1="491.50" y1="415.50" x2="491.50" y2="420.50" stroke="#000" stroke-width="0.9" />
<line x1="485.50" y1="415.50" x2="497.50" y2="415.50" stroke="#000" stroke-width="0.9" />
<line x1="485.50" y1="420.50" x2="497.50" y2="420.50" stroke="#000" stroke-width="0.9" />
<text x="329.30" y="481.20" font-size="8.5" textLength="13.30" lengthAdjust="spacingAndGlyphs" fill="#111" font-weight="normal">tPA</text>
<text x="353.80" y="481.20" font-size="8.5" textLength="42.40" lengthAdjust="spacingAndGlyphs" fill="#111" font-weight="normal">tPA/AB002</text>
<text x="445.50" y="481.00" font-size="8.5" textLength="13.30" lengthAdjust="spacingAndGlyphs" fill="#111" font-weight="normal">tPA</text>
<text x="470.00" y="481.00" font-size="8.5" textLength="42.40" lengthAdjust="spacingAndGlyphs" fill="#111" font-weight="normal">tPA/AB002</text>
<line x1="328.80" y1="486.60" x2="396.30" y2="486.60" stroke="#111" stroke-width="0.8" />
<line x1="445.00" y1="486.30" x2="512.40" y2="486.30" stroke="#111" stroke-width="0.8" />
<text x="348.30" y="496.90" font-size="8.5" textLength="28.70" lengthAdjust="spacingAndGlyphs" fill="#111" font-weight="normal">Normal</text>
<text x="452.00" y="497.00" font-size="8.5" textLength="53.00" lengthAdjust="spacingAndGlyphs" fill="#111" font-weight="normal">TAFI-deficient</text>
<text x="8.60" y="527.90" font-size="11.7" text-anchor="start" font-weight="bold" fill="#000"  stroke="#000" stroke-width="0.35">F</text>
<path d="M33.4 540 L424 540 Q443 601 424 662 L33.4 662 Z" fill="#ede0e0"/>
<path d="M39.6 528.7 L43.6 528.4 L47.6 527.4 L51.6 525.9 L55.6 524.0 L59.6 522.3 L63.6 521.1 L67.6 520.5 L71.6 520.5 L75.6 520.9 L79.6 521.1 L83.6 521.2 L87.6 520.9 L91.6 520.6 L95.6 520.4 L99.6 520.8 L103.6 521.8 L107.6 523.4 L111.6 525.3 L115.6 526.9 L119.6 528.1 L123.6 528.6 L127.6 528.6 L131.6 528.3 L135.6 528.0 L139.6 528.1 L143.6 528.4 L147.6 528.7 L151.6 528.8 L155.6 528.4 L159.6 527.3 L163.6 525.7 L167.6 523.8 L171.6 522.2 L175.6 521.1 L179.6 520.7 L183.6 520.8 L187.6 521.0 L191.6 521.2 L195.6 521.1 L199.6 520.7 L203.6 520.4 L207.6 520.3 L211.6 520.8 L215.6 522.0 L219.6 523.6 L223.6 525.5 L227.6 527.0 L231.6 528.0 L235.6 528.4 L239.6 528.3 L243.6 528.1 L247.6 528.0 L251.6 528.1 L255.6 528.5 L259.6 528.9 L263.6 529.0 L267.6 528.4 L271.6 527.2 L275.6 525.5 L279.6 523.7 L283.6 522.1 L287.6 521.2 L291.6 520.8 L295.6 521.0 L299.6 521.2 L303.6 521.2 L307.6 521.0 L311.6 520.6 L315.6 520.2 L319.6 520.2 L323.6 520.8 L327.6 522.1 L331.6 523.8 L335.6 525.6 L339.6 527.1 L343.6 528.0 L347.6 528.3 L351.6 528.1 L355.6 527.9 L359.6 527.9 L363.6 528.2 L367.6 528.7 L371.6 529.1 L375.6 529.1 L379.6 528.4 L383.6 527.0 L387.6 525.3 L391.6 523.5 L395.6 522.1 L399.6 521.3 L403.6 521.0 L407.6 521.2 L411.6 521.3 L415.6 521.3" fill="none" stroke="#4a4a4a" stroke-width="0.65" stroke-linejoin="round"/>
<path d="M39.9 520.2 L43.9 520.8 L47.9 521.6 L51.9 522.3 L55.9 522.6 L59.9 522.6 L63.9 522.3 L67.9 522.2 L71.9 522.5 L75.9 523.4 L79.9 524.8 L83.9 526.3 L87.9 527.5 L91.9 528.2 L95.9 528.3 L99.9 527.9 L103.9 527.4 L107.9 527.0 L111.9 527.0 L115.9 527.4 L119.9 527.9 L123.9 528.1 L127.9 527.9 L131.9 527.0 L135.9 525.7 L139.9 524.2 L143.9 522.9 L147.9 522.1 L151.9 521.9 L155.9 522.1 L159.9 522.4 L163.9 522.5 L167.9 522.1 L171.9 521.5 L175.9 520.7 L179.9 520.3 L183.9 520.4 L187.9 521.2 L191.9 522.4 L195.9 523.8 L199.9 525.0 L203.9 525.8 L207.9 526.0 L211.9 525.9 L215.9 525.8 L219.9 526.0 L223.9 526.6 L227.9 527.6 L231.9 528.6 L235.9 529.2 L239.9 529.3 L243.9 528.7 L247.9 527.6 L251.9 526.4 L255.9 525.4 L259.9 524.8 L263.9 524.6 L267.9 524.7 L271.9 524.7 L275.9 524.3 L279.9 523.5 L283.9 522.2 L287.9 521.0 L291.9 520.1 L295.9 519.9 L299.9 520.3 L303.9 521.1 L307.9 522.1 L311.9 522.9 L315.9 523.2 L319.9 523.2 L323.9 523.1 L327.9 523.1 L331.9 523.6 L335.9 524.6 L339.9 526.0 L343.9 527.4 L347.9 528.4 L351.9 528.8 L355.9 528.7 L359.9 528.0 L363.9 527.3 L367.9 526.9 L371.9 526.8 L375.9 527.1 L379.9 527.4 L383.9 527.4 L387.9 526.9 L391.9 525.8 L395.9 524.4 L399.9 522.9 L403.9 521.8 L407.9 521.3 L411.9 521.3 L415.9 521.7" fill="none" stroke="#4a4a4a" stroke-width="0.65" stroke-linejoin="round"/>
<path d="M40.5 525.3 L44.5 526.3 L48.5 526.8 L52.5 526.9 L56.5 527.0 L60.5 527.3 L64.5 527.8 L68.5 528.5 L72.5 529.0 L76.5 529.0 L80.5 528.3 L84.5 526.9 L88.5 525.0 L92.5 523.2 L96.5 521.8 L100.5 521.0 L104.5 520.8 L108.5 521.1 L112.5 521.4 L116.5 521.6 L120.5 521.6 L124.5 521.4 L128.5 521.4 L132.5 521.9 L136.5 523.0 L140.5 524.6 L144.5 526.4 L148.5 528.1 L152.5 529.2 L156.5 529.5 L160.5 529.1 L164.5 528.3 L168.5 527.4 L172.5 526.7 L176.5 526.3 L180.5 526.1 L184.5 525.8 L188.5 525.2 L192.5 524.0 L196.5 522.5 L200.5 521.0 L204.5 519.8 L208.5 519.2 L212.5 519.5 L216.5 520.5 L220.5 521.9 L224.5 523.2 L228.5 524.2 L232.5 524.8 L236.5 525.1 L240.5 525.4 L244.5 526.0 L248.5 526.9 L252.5 528.1 L256.5 529.1 L260.5 529.8 L264.5 529.7 L268.5 528.8 L272.5 527.3 L276.5 525.5 L280.5 524.0 L284.5 522.9 L288.5 522.3 L292.5 522.2 L296.5 522.1 L300.5 521.9 L304.5 521.4 L308.5 520.8 L312.5 520.3 L316.5 520.2 L320.5 520.9 L324.5 522.3 L328.5 524.1 L332.5 525.9 L336.5 527.4 L340.5 528.3 L344.5 528.5 L348.5 528.2 L352.5 527.8 L356.5 527.6 L360.5 527.5 L364.5 527.7 L368.5 527.7 L372.5 527.3 L376.5 526.3 L380.5 524.7 L384.5 522.9 L388.5 521.2 L392.5 520.1 L396.5 519.7 L400.5 520.0 L404.5 520.8 L408.5 521.7 L412.5 522.5 L416.5 522.9" fill="none" stroke="#4a4a4a" stroke-width="0.65" stroke-linejoin="round"/>
<path d="M41.0 524.9 L45.0 525.3 L49.0 526.1 L53.0 527.2 L57.0 528.1 L61.0 528.6 L65.0 528.4 L69.0 527.7 L73.0 526.8 L77.0 525.9 L81.0 525.5 L85.0 525.5 L89.0 525.8 L93.0 526.1 L97.0 526.1 L101.0 525.5 L105.0 524.5 L109.0 523.2 L113.0 522.1 L117.0 521.4 L121.0 521.4 L125.0 521.8 L129.0 522.4 L133.0 522.9 L137.0 523.0 L141.0 522.6 L145.0 522.0 L149.0 521.5 L153.0 521.5 L157.0 522.0 L161.0 523.0 L165.0 524.3 L169.0 525.5 L173.0 526.2 L177.0 526.3 L181.0 526.1 L185.0 525.7 L189.0 525.6 L193.0 525.9 L197.0 526.6 L201.0 527.5 L205.0 528.3 L209.0 528.6 L213.0 528.2 L217.0 527.4 L221.0 526.3 L225.0 525.3 L229.0 524.8 L233.0 524.7 L237.0 525.0 L241.0 525.3 L245.0 525.2 L249.0 524.7 L253.0 523.7 L257.0 522.5 L261.0 521.5 L265.0 520.9 L269.0 521.0 L273.0 521.6 L277.0 522.3 L281.0 523.0 L285.0 523.2 L289.0 523.0 L293.0 522.5 L297.0 522.2 L301.0 522.2 L305.0 522.8 L309.0 523.9 L313.0 525.2 L317.0 526.3 L321.0 527.0 L325.0 527.1 L329.0 526.8 L333.0 526.3 L337.0 526.0 L341.0 526.2 L345.0 526.8 L349.0 527.5 L353.0 528.1 L357.0 528.3 L361.0 527.8 L365.0 526.8 L369.0 525.6 L373.0 524.6 L377.0 524.0 L381.0 523.9 L385.0 524.1 L389.0 524.4 L393.0 524.4 L397.0 523.9 L401.0 523.0 L405.0 521.9 L409.0 521.0 L413.0 520.6 L417.0 520.9" fill="none" stroke="#4a4a4a" stroke-width="0.65" stroke-linejoin="round"/>
<path d="M39.4 521.4 L43.4 520.6 L47.4 520.4 L51.4 520.8 L55.4 521.7 L59.4 522.7 L63.4 523.5 L67.4 523.8 L71.4 523.8 L75.4 523.8 L79.4 524.0 L83.4 524.6 L87.4 525.7 L91.4 527.0 L95.4 528.2 L99.4 528.9 L103.4 528.9 L107.4 528.2 L111.4 527.1 L115.4 526.0 L119.4 525.2 L123.4 524.9 L127.4 524.8 L131.4 524.9 L135.4 524.6 L139.4 524.0 L143.4 522.9 L147.4 521.7 L151.4 520.7 L155.4 520.2 L159.4 520.5 L163.4 521.3 L167.4 522.6 L171.4 523.7 L175.4 524.5 L179.4 524.9 L183.4 524.9 L187.4 524.9 L191.4 525.1 L195.4 525.8 L199.4 526.8 L203.4 527.9 L207.4 528.7 L211.4 528.9 L215.4 528.5 L219.4 527.4 L223.4 526.1 L227.4 524.9 L231.4 524.0 L235.4 523.7 L239.4 523.7 L243.4 523.8 L247.4 523.6 L251.4 523.0 L255.4 522.0 L259.4 521.1 L263.4 520.5 L267.4 520.4 L271.4 521.1 L275.4 522.4 L279.4 523.8 L283.4 525.0 L287.4 525.8 L291.4 526.1 L295.4 526.0 L299.4 525.9 L303.4 526.1 L307.4 526.6 L311.4 527.4 L315.4 528.2 L319.4 528.6 L323.4 528.4 L327.4 527.5 L331.4 526.2 L335.4 524.7 L339.4 523.5 L343.4 522.8 L347.4 522.6 L351.4 522.7 L355.4 522.9 L359.4 522.8 L363.4 522.4 L367.4 521.7 L371.4 521.1 L375.4 520.8 L379.4 521.2 L383.4 522.3 L387.4 523.7 L391.4 525.2 L395.4 526.4 L399.4 527.0 L403.4 527.1 L407.4 526.8 L411.4 526.6 L415.4 526.6" fill="none" stroke="#4a4a4a" stroke-width="0.65" stroke-linejoin="round"/>
<path d="M40.9 679.9 L44.9 679.4 L48.9 678.2 L52.9 676.6 L56.9 674.7 L60.9 673.1 L64.9 672.1 L68.9 671.7 L72.9 671.8 L76.9 672.2 L80.9 672.4 L84.9 672.3 L88.9 672.0 L92.9 671.7 L96.9 671.7 L100.9 672.2 L104.9 673.4 L108.9 675.1 L112.9 677.0 L116.9 678.5 L120.9 679.5 L124.9 679.8 L128.9 679.7 L132.9 679.4 L136.9 679.2 L140.9 679.3 L144.9 679.7 L148.9 680.0 L152.9 680.0 L156.9 679.4 L160.9 678.1 L164.9 676.4 L168.9 674.6 L172.9 673.1 L176.9 672.2 L180.9 671.9 L184.9 672.0 L188.9 672.3 L192.9 672.4 L196.9 672.2 L200.9 671.8 L204.9 671.5 L208.9 671.6 L212.9 672.2 L216.9 673.6 L220.9 675.3 L224.9 677.1 L228.9 678.6 L232.9 679.4 L236.9 679.6 L240.9 679.5 L244.9 679.2 L248.9 679.2 L252.9 679.4 L256.9 679.9 L260.9 680.2 L264.9 680.1 L268.9 679.3 L272.9 677.9 L276.9 676.2 L280.9 674.4 L284.9 673.0 L288.9 672.2 L292.9 672.1 L296.9 672.2 L300.9 672.4 L304.9 672.4 L308.9 672.1 L312.9 671.6 L316.9 671.3 L320.9 671.5 L324.9 672.3 L328.9 673.8 L332.9 675.5 L336.9 677.3 L340.9 678.6 L344.9 679.3 L348.9 679.4 L352.9 679.3 L356.9 679.1 L360.9 679.2 L364.9 679.6 L368.9 680.1 L372.9 680.4 L376.9 680.2 L380.9 679.3 L384.9 677.8 L388.9 676.0 L392.9 674.3 L396.9 673.0 L400.9 672.4 L404.9 672.3 L408.9 672.4 L412.9 672.5 L416.9 672.4" fill="none" stroke="#4a4a4a" stroke-width="0.65" stroke-linejoin="round"/>
<path d="M38.3 671.3 L42.3 671.9 L46.3 672.7 L50.3 673.5 L54.3 673.9 L58.3 673.9 L62.3 673.7 L66.3 673.5 L70.3 673.8 L74.3 674.6 L78.3 675.8 L82.3 677.3 L86.3 678.6 L90.3 679.4 L94.3 679.6 L98.3 679.3 L102.3 678.7 L106.3 678.3 L110.3 678.2 L114.3 678.5 L118.3 678.9 L122.3 679.2 L126.3 679.1 L130.3 678.3 L134.3 677.0 L138.3 675.5 L142.3 674.1 L146.3 673.3 L150.3 673.0 L154.3 673.2 L158.3 673.5 L162.3 673.6 L166.3 673.4 L170.3 672.8 L174.3 672.1 L178.3 671.6 L182.3 671.6 L186.3 672.3 L190.3 673.5 L194.3 674.9 L198.3 676.2 L202.3 677.0 L206.3 677.3 L210.3 677.2 L214.3 677.1 L218.3 677.2 L222.3 677.7 L226.3 678.6 L230.3 679.6 L234.3 680.4 L238.3 680.5 L242.3 680.0 L246.3 679.0 L250.3 677.7 L254.3 676.6 L258.3 675.9 L262.3 675.7 L266.3 675.8 L270.3 675.8 L274.3 675.5 L278.3 674.7 L282.3 673.6 L286.3 672.3 L290.3 671.4 L294.3 671.1 L298.3 671.4 L302.3 672.2 L306.3 673.2 L310.3 674.0 L314.3 674.5 L318.3 674.5 L322.3 674.4 L326.3 674.4 L330.3 674.8 L334.3 675.7 L338.3 677.1 L342.3 678.5 L346.3 679.6 L350.3 680.1 L354.3 680.0 L358.3 679.4 L362.3 678.6 L366.3 678.1 L370.3 677.9 L374.3 678.1 L378.3 678.4 L382.3 678.5 L386.3 678.1 L390.3 677.1 L394.3 675.7 L398.3 674.2 L402.3 673.0 L406.3 672.4 L410.3 672.4 L414.3 672.7" fill="none" stroke="#4a4a4a" stroke-width="0.65" stroke-linejoin="round"/>
<path d="M38.6 678.6 L42.6 678.7 L46.6 678.6 L50.6 678.7 L54.6 679.0 L58.6 679.5 L62.6 679.8 L66.6 679.8 L70.6 679.0 L74.6 677.6 L78.6 675.8 L82.6 673.9 L86.6 672.5 L90.6 671.7 L94.6 671.6 L98.6 672.0 L102.6 672.5 L106.6 673.0 L110.6 673.1 L114.6 673.1 L118.6 673.2 L122.6 673.7 L126.6 674.7 L130.6 676.3 L134.6 678.0 L138.6 679.6 L142.6 680.7 L146.6 680.9 L150.6 680.4 L154.6 679.5 L158.6 678.4 L162.6 677.5 L166.6 677.0 L170.6 676.7 L174.6 676.3 L178.6 675.8 L182.6 674.8 L186.6 673.4 L190.6 672.0 L194.6 670.9 L198.6 670.4 L202.6 670.8 L206.6 671.9 L210.6 673.3 L214.6 674.8 L218.6 676.0 L222.6 676.7 L226.6 677.0 L230.6 677.3 L234.6 677.7 L238.6 678.4 L242.6 679.3 L246.6 680.3 L250.6 680.8 L254.6 680.6 L258.6 679.6 L262.6 678.1 L266.6 676.3 L270.6 674.6 L274.6 673.5 L278.6 672.9 L282.6 672.8 L286.6 672.9 L290.6 672.9 L294.6 672.6 L298.6 672.2 L302.6 671.9 L306.6 671.9 L310.6 672.6 L314.6 673.9 L318.6 675.7 L322.6 677.6 L326.6 679.1 L330.6 680.0 L334.6 680.1 L338.6 679.7 L342.6 679.1 L346.6 678.6 L350.6 678.4 L354.6 678.4 L358.6 678.3 L362.6 677.9 L366.6 676.9 L370.6 675.4 L374.6 673.7 L378.6 672.1 L382.6 671.0 L386.6 670.6 L390.6 671.1 L394.6 672.0 L398.6 673.1 L402.6 674.1 L406.6 674.7 L410.6 675.0 L414.6 675.3" fill="none" stroke="#4a4a4a" stroke-width="0.65" stroke-linejoin="round"/>
<path d="M39.4 676.3 L43.4 676.7 L47.4 677.6 L51.4 678.6 L55.4 679.5 L59.4 679.8 L63.4 679.5 L67.4 678.7 L71.4 677.7 L75.4 676.9 L79.4 676.5 L83.4 676.5 L87.4 676.8 L91.4 677.1 L95.4 677.0 L99.4 676.4 L103.4 675.3 L107.4 674.0 L111.4 673.0 L115.4 672.4 L119.4 672.5 L123.4 673.0 L127.4 673.7 L131.4 674.1 L135.4 674.2 L139.4 673.8 L143.4 673.3 L147.4 672.9 L151.4 672.9 L155.4 673.5 L159.4 674.6 L163.4 675.9 L167.4 677.0 L171.4 677.6 L175.4 677.7 L179.4 677.4 L183.4 677.0 L187.4 676.9 L191.4 677.2 L195.4 678.0 L199.4 678.8 L203.4 679.5 L207.4 679.7 L211.4 679.3 L215.4 678.3 L219.4 677.2 L223.4 676.3 L227.4 675.8 L231.4 675.7 L235.4 676.0 L239.4 676.2 L243.4 676.1 L247.4 675.6 L251.4 674.5 L255.4 673.4 L259.4 672.4 L263.4 672.0 L267.4 672.2 L271.4 672.8 L275.4 673.7 L279.4 674.3 L283.4 674.5 L287.4 674.3 L291.4 673.9 L295.4 673.5 L299.4 673.7 L303.4 674.3 L307.4 675.5 L311.4 676.8 L315.4 677.9 L319.4 678.4 L323.4 678.5 L327.4 678.1 L331.4 677.6 L335.4 677.3 L339.4 677.5 L343.4 678.1 L347.4 678.8 L351.4 679.3 L355.4 679.3 L359.4 678.8 L363.4 677.7 L367.4 676.5 L371.4 675.5 L375.4 674.9 L379.4 674.9 L383.4 675.1 L387.4 675.4 L391.4 675.4 L395.4 674.9 L399.4 673.9 L403.4 672.9 L407.4 672.1 L411.4 671.8 L415.4 672.1" fill="none" stroke="#4a4a4a" stroke-width="0.65" stroke-linejoin="round"/>
<path d="M40.5 674.7 L44.5 673.3 L48.5 672.2 L52.5 671.7 L56.5 671.9 L60.5 672.6 L64.5 673.5 L68.5 674.2 L72.5 674.6 L76.5 674.6 L80.5 674.5 L84.5 674.6 L88.5 675.1 L92.5 676.2 L96.5 677.5 L100.5 678.9 L104.5 679.8 L108.5 680.1 L112.5 679.7 L116.5 678.8 L120.5 677.8 L124.5 677.0 L128.5 676.5 L132.5 676.5 L136.5 676.5 L140.5 676.4 L144.5 675.8 L148.5 674.8 L152.5 673.5 L156.5 672.3 L160.5 671.5 L164.5 671.5 L168.5 672.1 L172.5 673.2 L176.5 674.3 L180.5 675.2 L184.5 675.6 L188.5 675.7 L192.5 675.6 L196.5 675.8 L200.5 676.4 L204.5 677.4 L208.5 678.6 L212.5 679.7 L216.5 680.2 L220.5 680.0 L224.5 679.2 L228.5 678.0 L232.5 676.7 L236.5 675.9 L240.5 675.4 L244.5 675.4 L248.5 675.4 L252.5 675.2 L256.5 674.7 L260.5 673.7 L264.5 672.6 L268.5 671.8 L272.5 671.5 L276.5 671.9 L280.5 672.9 L284.5 674.2 L288.5 675.5 L292.5 676.4 L296.5 676.8 L300.5 676.8 L304.5 676.7 L308.5 676.9 L312.5 677.4 L316.5 678.3 L320.5 679.2 L324.5 679.9 L328.5 680.0 L332.5 679.3 L336.5 678.2 L340.5 676.7 L344.5 675.4 L348.5 674.6 L352.5 674.2 L356.5 674.3 L360.5 674.4 L364.5 674.3 L368.5 673.9 L372.5 673.1 L376.5 672.3 L380.5 671.8 L384.5 672.0 L388.5 672.8 L392.5 674.1 L396.5 675.6 L400.5 676.9 L404.5 677.7 L408.5 677.9 L412.5 677.8 L416.5 677.5" fill="none" stroke="#4a4a4a" stroke-width="0.65" stroke-linejoin="round"/>
<rect x="33.3" y="532.2" width="64.4" height="15.2" rx="3.4" fill="#dba48a" stroke="#4a4038" stroke-width="0.85"/>
<ellipse cx="73.7" cy="539.3" rx="8.6" ry="2.9" fill="#b99a68"/>
<rect x="33.3" y="653.6" width="64.4" height="15.0" rx="3.4" fill="#dba48a" stroke="#4a4038" stroke-width="0.85"/>
<ellipse cx="73.7" cy="657.5" rx="8.6" ry="2.9" fill="#b99a68"/>
<rect x="99.2" y="532.2" width="63.2" height="15.2" rx="3.4" fill="#dba48a" stroke="#4a4038" stroke-width="0.85"/>
<ellipse cx="128.0" cy="536.8" rx="8.6" ry="2.9" fill="#b99a68"/>
<rect x="99.2" y="653.6" width="63.2" height="15.0" rx="3.4" fill="#dba48a" stroke="#4a4038" stroke-width="0.85"/>
<ellipse cx="113.0" cy="663.8" rx="8.6" ry="2.9" fill="#b99a68"/>
<rect x="164.0" y="532.2" width="63.8" height="15.2" rx="3.4" fill="#dba48a" stroke="#4a4038" stroke-width="0.85"/>
<ellipse cx="180.0" cy="541.7" rx="8.6" ry="2.9" fill="#b99a68"/>
<rect x="164.0" y="653.6" width="63.8" height="15.0" rx="3.4" fill="#dba48a" stroke="#4a4038" stroke-width="0.85"/>
<ellipse cx="196.0" cy="657.2" rx="8.6" ry="2.9" fill="#b99a68"/>
<rect x="229.5" y="532.2" width="63.4" height="15.2" rx="3.4" fill="#dba48a" stroke="#4a4038" stroke-width="0.85"/>
<ellipse cx="247.5" cy="535.6" rx="8.6" ry="2.9" fill="#b99a68"/>
<rect x="229.5" y="653.6" width="63.4" height="15.0" rx="3.4" fill="#dba48a" stroke="#4a4038" stroke-width="0.85"/>
<ellipse cx="250.0" cy="663.0" rx="8.6" ry="2.9" fill="#b99a68"/>
<rect x="294.4" y="532.2" width="63.8" height="15.2" rx="3.4" fill="#dba48a" stroke="#4a4038" stroke-width="0.85"/>
<ellipse cx="341.2" cy="541.7" rx="8.6" ry="2.9" fill="#b99a68"/>
<rect x="294.4" y="653.6" width="63.8" height="15.0" rx="3.4" fill="#dba48a" stroke="#4a4038" stroke-width="0.85"/>
<ellipse cx="337.5" cy="658.0" rx="8.6" ry="2.9" fill="#b99a68"/>
<rect x="360.0" y="532.2" width="63.8" height="15.2" rx="3.4" fill="#dba48a" stroke="#4a4038" stroke-width="0.85"/>
<ellipse cx="393.8" cy="538.8" rx="8.6" ry="2.9" fill="#b99a68"/>
<rect x="360.0" y="653.6" width="63.8" height="15.0" rx="3.4" fill="#dba48a" stroke="#4a4038" stroke-width="0.85"/>
<ellipse cx="382.0" cy="661.2" rx="8.6" ry="2.9" fill="#b99a68"/>
<line x1="36.30" y1="561.70" x2="61.10" y2="561.70" stroke="#111" stroke-width="0.95" />
<path d="M63.6 561.7 L58.0 559.2 L59.6 561.7 L58.0 564.2 Z" fill="#111"/>
<line x1="36.30" y1="574.80" x2="70.50" y2="574.80" stroke="#111" stroke-width="0.95" />
<path d="M73.0 574.8 L67.4 572.3 L69.0 574.8 L67.4 577.3 Z" fill="#111"/>
<line x1="36.30" y1="587.60" x2="78.00" y2="587.60" stroke="#111" stroke-width="0.95" />
<path d="M80.5 587.6 L74.9 585.1 L76.5 587.6 L74.9 590.1 Z" fill="#111"/>
<line x1="36.30" y1="600.50" x2="83.00" y2="600.50" stroke="#111" stroke-width="0.95" />
<path d="M85.5 600.5 L79.9 598.0 L81.5 600.5 L79.9 603.0 Z" fill="#111"/>
<line x1="36.30" y1="613.70" x2="78.00" y2="613.70" stroke="#111" stroke-width="0.95" />
<path d="M80.5 613.7 L74.9 611.2 L76.5 613.7 L74.9 616.2 Z" fill="#111"/>
<line x1="36.30" y1="626.70" x2="70.50" y2="626.70" stroke="#111" stroke-width="0.95" />
<path d="M73.0 626.7 L67.4 624.2 L69.0 626.7 L67.4 629.2 Z" fill="#111"/>
<line x1="36.30" y1="639.70" x2="60.50" y2="639.70" stroke="#111" stroke-width="0.95" />
<path d="M63.0 639.7 L57.4 637.2 L59.0 639.7 L57.4 642.2 Z" fill="#111"/>
<ellipse cx="360.1" cy="595.4" rx="8.8" ry="4.4" transform="rotate(7 360.1 595.4)" fill="#c5191d" stroke="#a50f14" stroke-width="0.6"/>
<ellipse cx="346.5" cy="595.7" rx="8.8" ry="4.4" transform="rotate(-6 346.5 595.7)" fill="#c5191d" stroke="#a50f14" stroke-width="0.6"/>
<ellipse cx="395.9" cy="648.6" rx="8.8" ry="4.4" transform="rotate(-11 395.9 648.6)" fill="#c5191d" stroke="#a50f14" stroke-width="0.6"/>
<ellipse cx="345.5" cy="632.8" rx="8.8" ry="4.4" transform="rotate(-10 345.5 632.8)" fill="#c5191d" stroke="#a50f14" stroke-width="0.6"/>
<ellipse cx="316.5" cy="642.8" rx="8.8" ry="4.4" transform="rotate(4 316.5 642.8)" fill="#c5191d" stroke="#a50f14" stroke-width="0.6"/>
<ellipse cx="267.2" cy="641.2" rx="8.8" ry="4.4" transform="rotate(3 267.2 641.2)" fill="#c5191d" stroke="#a50f14" stroke-width="0.6"/>
<ellipse cx="293.6" cy="634.0" rx="8.8" ry="4.4" transform="rotate(9 293.6 634.0)" fill="#c5191d" stroke="#a50f14" stroke-width="0.6"/>
<ellipse cx="325.1" cy="613.0" rx="8.8" ry="4.4" transform="rotate(11 325.1 613.0)" fill="#c5191d" stroke="#a50f14" stroke-width="0.6"/>
<ellipse cx="378.1" cy="597.4" rx="8.8" ry="4.4" transform="rotate(-1 378.1 597.4)" fill="#c5191d" stroke="#a50f14" stroke-width="0.6"/>
<ellipse cx="352.5" cy="605.2" rx="8.8" ry="4.4" transform="rotate(-10 352.5 605.2)" fill="#c5191d" stroke="#a50f14" stroke-width="0.6"/>
<ellipse cx="337.0" cy="588.2" rx="8.8" ry="4.4" transform="rotate(-5 337.0 588.2)" fill="#c5191d" stroke="#a50f14" stroke-width="0.6"/>
<ellipse cx="364.2" cy="648.1" rx="8.8" ry="4.4" transform="rotate(-9 364.2 648.1)" fill="#c5191d" stroke="#a50f14" stroke-width="0.6"/>
<ellipse cx="373.5" cy="624.4" rx="8.8" ry="4.4" transform="rotate(11 373.5 624.4)" fill="#c5191d" stroke="#a50f14" stroke-width="0.6"/>
<ellipse cx="319.4" cy="604.4" rx="8.8" ry="4.4" transform="rotate(12 319.4 604.4)" fill="#c5191d" stroke="#a50f14" stroke-width="0.6"/>
<ellipse cx="324.7" cy="651.5" rx="8.8" ry="4.4" transform="rotate(-11 324.7 651.5)" fill="#c5191d" stroke="#a50f14" stroke-width="0.6"/>
<ellipse cx="372.2" cy="587.7" rx="8.8" ry="4.4" transform="rotate(-6 372.2 587.7)" fill="#c5191d" stroke="#a50f14" stroke-width="0.6"/>
<ellipse cx="300.2" cy="623.9" rx="8.8" ry="4.4" transform="rotate(-9 300.2 623.9)" fill="#c5191d" stroke="#a50f14" stroke-width="0.6"/>
<ellipse cx="295.1" cy="613.6" rx="8.8" ry="4.4" transform="rotate(11 295.1 613.6)" fill="#c5191d" stroke="#a50f14" stroke-width="0.6"/>
<ellipse cx="317.7" cy="625.2" rx="8.8" ry="4.4" transform="rotate(12 317.7 625.2)" fill="#c5191d" stroke="#a50f14" stroke-width="0.6"/>
<ellipse cx="309.5" cy="633.6" rx="8.8" ry="4.4" transform="rotate(9 309.5 633.6)" fill="#c5191d" stroke="#a50f14" stroke-width="0.6"/>
<ellipse cx="273.3" cy="649.7" rx="8.8" ry="4.4" transform="rotate(3 273.3 649.7)" fill="#c5191d" stroke="#a50f14" stroke-width="0.6"/>
<ellipse cx="327.9" cy="632.9" rx="8.8" ry="4.4" transform="rotate(-3 327.9 632.9)" fill="#c5191d" stroke="#a50f14" stroke-width="0.6"/>
<ellipse cx="408.8" cy="605.9" rx="8.8" ry="4.4" transform="rotate(2 408.8 605.9)" fill="#c5191d" stroke="#a50f14" stroke-width="0.6"/>
<ellipse cx="415.8" cy="649.8" rx="8.8" ry="4.4" transform="rotate(3 415.8 649.8)" fill="#c5191d" stroke="#a50f14" stroke-width="0.6"/>
<ellipse cx="292.5" cy="649.3" rx="8.8" ry="4.4" transform="rotate(8 292.5 649.3)" fill="#c5191d" stroke="#a50f14" stroke-width="0.6"/>
<ellipse cx="354.5" cy="640.0" rx="8.8" ry="4.4" transform="rotate(-2 354.5 640.0)" fill="#c5191d" stroke="#a50f14" stroke-width="0.6"/>
<ellipse cx="312.3" cy="615.2" rx="8.8" ry="4.4" transform="rotate(-2 312.3 615.2)" fill="#c5191d" stroke="#a50f14" stroke-width="0.6"/>
<ellipse cx="325.0" cy="596.5" rx="8.8" ry="4.4" transform="rotate(11 325.0 596.5)" fill="#c5191d" stroke="#a50f14" stroke-width="0.6"/>
<ellipse cx="336.9" cy="624.4" rx="8.8" ry="4.4" transform="rotate(2 336.9 624.4)" fill="#c5191d" stroke="#a50f14" stroke-width="0.6"/>
<ellipse cx="363.3" cy="634.4" rx="8.8" ry="4.4" transform="rotate(9 363.3 634.4)" fill="#c5191d" stroke="#a50f14" stroke-width="0.6"/>
<ellipse cx="346.3" cy="650.3" rx="8.8" ry="4.4" transform="rotate(-5 346.3 650.3)" fill="#c5191d" stroke="#a50f14" stroke-width="0.6"/>
<ellipse cx="378.1" cy="615.7" rx="8.8" ry="4.4" transform="rotate(-10 378.1 615.7)" fill="#c5191d" stroke="#a50f14" stroke-width="0.6"/>
<ellipse cx="415.7" cy="613.9" rx="8.8" ry="4.4" transform="rotate(10 415.7 613.9)" fill="#c5191d" stroke="#a50f14" stroke-width="0.6"/>
<ellipse cx="405.4" cy="589.8" rx="8.8" ry="4.4" transform="rotate(-3 405.4 589.8)" fill="#c5191d" stroke="#a50f14" stroke-width="0.6"/>
<ellipse cx="412.5" cy="633.4" rx="8.8" ry="4.4" transform="rotate(-11 412.5 633.4)" fill="#c5191d" stroke="#a50f14" stroke-width="0.6"/>
<ellipse cx="395.9" cy="615.0" rx="8.8" ry="4.4" transform="rotate(8 395.9 615.0)" fill="#c5191d" stroke="#a50f14" stroke-width="0.6"/>
<ellipse cx="395.6" cy="598.1" rx="8.8" ry="4.4" transform="rotate(-9 395.6 598.1)" fill="#c5191d" stroke="#a50f14" stroke-width="0.6"/>
<ellipse cx="385.6" cy="624.1" rx="8.8" ry="4.4" transform="rotate(-0 385.6 624.1)" fill="#c5191d" stroke="#a50f14" stroke-width="0.6"/>
<ellipse cx="407.4" cy="622.9" rx="8.8" ry="4.4" transform="rotate(12 407.4 622.9)" fill="#c5191d" stroke="#a50f14" stroke-width="0.6"/>
<ellipse cx="299.8" cy="641.9" rx="8.8" ry="4.4" transform="rotate(-7 299.8 641.9)" fill="#c5191d" stroke="#a50f14" stroke-width="0.6"/>
<ellipse cx="343.4" cy="615.6" rx="8.8" ry="4.4" transform="rotate(-6 343.4 615.6)" fill="#c5191d" stroke="#a50f14" stroke-width="0.6"/>
<ellipse cx="389.1" cy="605.5" rx="8.8" ry="4.4" transform="rotate(-1 389.1 605.5)" fill="#c5191d" stroke="#a50f14" stroke-width="0.6"/>
<ellipse cx="334.3" cy="605.0" rx="8.8" ry="4.4" transform="rotate(7 334.3 605.0)" fill="#c5191d" stroke="#a50f14" stroke-width="0.6"/>
<ellipse cx="379.7" cy="648.1" rx="8.8" ry="4.4" transform="rotate(8 379.7 648.1)" fill="#c5191d" stroke="#a50f14" stroke-width="0.6"/>
<ellipse cx="356.5" cy="590.4" rx="8.8" ry="4.4" transform="rotate(8 356.5 590.4)" fill="#c5191d" stroke="#a50f14" stroke-width="0.6"/>
<ellipse cx="372.8" cy="642.9" rx="8.8" ry="4.4" transform="rotate(9 372.8 642.9)" fill="#c5191d" stroke="#a50f14" stroke-width="0.6"/>
<ellipse cx="276.8" cy="634.1" rx="8.8" ry="4.4" transform="rotate(-4 276.8 634.1)" fill="#c5191d" stroke="#a50f14" stroke-width="0.6"/>
<ellipse cx="255.5" cy="649.8" rx="8.8" ry="4.4" transform="rotate(-5 255.5 649.8)" fill="#c5191d" stroke="#a50f14" stroke-width="0.6"/>
<ellipse cx="335.7" cy="642.8" rx="8.8" ry="4.4" transform="rotate(-4 335.7 642.8)" fill="#c5191d" stroke="#a50f14" stroke-width="0.6"/>
<ellipse cx="382.9" cy="581.5" rx="8.8" ry="4.4" transform="rotate(4 382.9 581.5)" fill="#c5191d" stroke="#a50f14" stroke-width="0.6"/>
<ellipse cx="286.0" cy="640.2" rx="8.8" ry="4.4" transform="rotate(-12 286.0 640.2)" fill="#c5191d" stroke="#a50f14" stroke-width="0.6"/>
<ellipse cx="415.9" cy="595.7" rx="8.8" ry="4.4" transform="rotate(-2 415.9 595.7)" fill="#c5191d" stroke="#a50f14" stroke-width="0.6"/>
<ellipse cx="368.5" cy="606.3" rx="8.8" ry="4.4" transform="rotate(-6 368.5 606.3)" fill="#c5191d" stroke="#a50f14" stroke-width="0.6"/>
<ellipse cx="351.3" cy="621.7" rx="8.8" ry="4.4" transform="rotate(-12 351.3 621.7)" fill="#c5191d" stroke="#a50f14" stroke-width="0.6"/>
<ellipse cx="403.8" cy="641.2" rx="8.8" ry="4.4" transform="rotate(8 403.8 641.2)" fill="#c5191d" stroke="#a50f14" stroke-width="0.6"/>
<ellipse cx="312.9" cy="649.8" rx="8.8" ry="4.4" transform="rotate(-10 312.9 649.8)" fill="#c5191d" stroke="#a50f14" stroke-width="0.6"/>
<ellipse cx="299.3" cy="605.6" rx="8.8" ry="4.4" transform="rotate(9 299.3 605.6)" fill="#c5191d" stroke="#a50f14" stroke-width="0.6"/>
<ellipse cx="249.1" cy="641.1" rx="8.8" ry="4.4" transform="rotate(-6 249.1 641.1)" fill="#c5191d" stroke="#a50f14" stroke-width="0.6"/>
<ellipse cx="387.2" cy="586.7" rx="8.8" ry="4.4" transform="rotate(6 387.2 586.7)" fill="#c5191d" stroke="#a50f14" stroke-width="0.6"/>
<ellipse cx="364.4" cy="615.2" rx="8.8" ry="4.4" transform="rotate(-5 364.4 615.2)" fill="#c5191d" stroke="#a50f14" stroke-width="0.6"/>
<ellipse cx="387.8" cy="641.5" rx="8.8" ry="4.4" transform="rotate(-4 387.8 641.5)" fill="#c5191d" stroke="#a50f14" stroke-width="0.6"/>
<ellipse cx="381.4" cy="632.0" rx="8.8" ry="4.4" transform="rotate(6 381.4 632.0)" fill="#c5191d" stroke="#a50f14" stroke-width="0.6"/>
<ellipse cx="398.0" cy="632.2" rx="8.8" ry="4.4" transform="rotate(8 398.0 632.2)" fill="#c5191d" stroke="#a50f14" stroke-width="0.6"/>
<clipPath id="clotclip"><path d="M238 653 L241 637 L258 630 L277 619 L290 600 L313 595 L329 585 L345 576 L372 575.5 L402 577 L420 585 L429 597 L431 632 L427 653 Z"/></clipPath>
<g clip-path="url(#clotclip)">
<path d="M377.5 618.8 Q332.2 634.5 302.0 651.0" fill="none" stroke="#6f4a14" stroke-width="0.95"/>
<path d="M421.8 621.3 Q402.5 626.8 381.7 630.5" fill="none" stroke="#6f4a14" stroke-width="0.95"/>
<path d="M307.1 637.3 Q292.2 639.7 273.7 651.0" fill="none" stroke="#6f4a14" stroke-width="0.95"/>
<path d="M248.0 634.1 Q259.5 648.1 277.8 651.0" fill="none" stroke="#6f4a14" stroke-width="0.95"/>
<path d="M320.1 614.0 Q364.1 630.1 395.5 651.0" fill="none" stroke="#6f4a14" stroke-width="0.95"/>
<path d="M279.0 620.5 Q323.0 620.5 356.7 621.0" fill="none" stroke="#6f4a14" stroke-width="0.95"/>
<path d="M310.3 605.0 Q302.7 620.2 287.2 627.1" fill="none" stroke="#6f4a14" stroke-width="0.95"/>
<path d="M301.4 618.6 Q315.5 622.0 339.3 619.4" fill="none" stroke="#6f4a14" stroke-width="0.95"/>
<path d="M400.3 634.9 Q407.0 645.9 426.1 651.0" fill="none" stroke="#6f4a14" stroke-width="0.95"/>
<path d="M358.7 637.3 Q393.3 646.2 424.4 645.0" fill="none" stroke="#6f4a14" stroke-width="0.95"/>
<path d="M310.0 632.8 Q299.4 637.7 302.3 651.0" fill="none" stroke="#6f4a14" stroke-width="0.95"/>
<path d="M357.7 645.8 Q372.8 645.2 390.9 651.0" fill="none" stroke="#6f4a14" stroke-width="0.95"/>
<path d="M348.5 624.1 Q345.3 637.5 357.1 651.0" fill="none" stroke="#6f4a14" stroke-width="0.95"/>
<path d="M410.6 574.0 Q372.7 596.7 347.5 621.1" fill="none" stroke="#6f4a14" stroke-width="0.95"/>
<path d="M264.5 627.6 Q291.2 638.8 302.6 651.0" fill="none" stroke="#6f4a14" stroke-width="0.95"/>
<path d="M332.0 618.6 Q331.8 640.7 335.5 651.0" fill="none" stroke="#6f4a14" stroke-width="0.95"/>
<path d="M413.1 610.3 Q417.7 634.9 413.3 650.6" fill="none" stroke="#6f4a14" stroke-width="0.95"/>
<path d="M328.5 623.2 Q296.4 639.6 268.7 651.0" fill="none" stroke="#6f4a14" stroke-width="0.95"/>
<path d="M314.6 600.8 Q287.5 620.3 255.7 637.9" fill="none" stroke="#6f4a14" stroke-width="0.95"/>
<path d="M289.7 607.3 Q292.3 630.9 299.8 651.0" fill="none" stroke="#6f4a14" stroke-width="0.95"/>
<path d="M364.0 620.5 Q391.6 641.2 404.0 651.0" fill="none" stroke="#6f4a14" stroke-width="0.95"/>
<path d="M316.4 605.8 Q357.4 624.1 392.4 637.0" fill="none" stroke="#6f4a14" stroke-width="0.95"/>
<path d="M389.9 579.0 Q364.3 598.5 334.7 611.5" fill="none" stroke="#6f4a14" stroke-width="0.95"/>
<path d="M345.4 628.5 Q363.4 632.1 390.3 631.3" fill="none" stroke="#6f4a14" stroke-width="0.95"/>
<path d="M356.0 574.0 Q355.3 585.0 360.4 603.6" fill="none" stroke="#6f4a14" stroke-width="0.95"/>
<path d="M336.2 589.6 Q315.8 612.7 311.4 638.0" fill="none" stroke="#6f4a14" stroke-width="0.95"/>
<path d="M274.0 599.7 Q316.7 605.9 355.7 621.8" fill="none" stroke="#6f4a14" stroke-width="0.95"/>
<path d="M349.5 581.3 Q342.6 616.0 325.6 647.3" fill="none" stroke="#6f4a14" stroke-width="0.95"/>
<path d="M378.5 615.0 Q337.2 613.6 283.4 624.2" fill="none" stroke="#6f4a14" stroke-width="0.95"/>
<path d="M364.9 574.0 Q342.5 598.6 328.8 628.3" fill="none" stroke="#6f4a14" stroke-width="0.95"/>
<path d="M425.4 601.7 Q395.2 605.7 349.7 609.7" fill="none" stroke="#6f4a14" stroke-width="0.95"/>
<path d="M339.5 598.9 Q300.5 601.5 273.6 601.2" fill="none" stroke="#6f4a14" stroke-width="0.95"/>
<path d="M344.6 585.9 Q307.3 610.8 277.2 625.3" fill="none" stroke="#6f4a14" stroke-width="0.95"/>
<path d="M374.4 587.0 Q391.0 598.6 404.2 610.9" fill="none" stroke="#6f4a14" stroke-width="0.95"/>
<path d="M368.0 614.1 Q353.9 623.1 338.6 636.0" fill="none" stroke="#6f4a14" stroke-width="0.95"/>
<path d="M298.6 602.9 Q294.4 620.4 305.1 643.9" fill="none" stroke="#6f4a14" stroke-width="0.95"/>
<path d="M346.1 638.7 Q312.3 645.8 280.9 651.0" fill="none" stroke="#6f4a14" stroke-width="0.95"/>
<path d="M368.9 603.0 Q377.1 623.4 374.1 651.0" fill="none" stroke="#6f4a14" stroke-width="0.95"/>
<path d="M275.9 633.6 Q315.4 643.4 361.7 646.5" fill="none" stroke="#6f4a14" stroke-width="0.95"/>
<path d="M403.5 574.0 Q400.3 598.7 408.2 621.3" fill="none" stroke="#6f4a14" stroke-width="0.95"/>
<path d="M422.8 643.3 Q413.9 652.6 400.3 651.0" fill="none" stroke="#6f4a14" stroke-width="0.95"/>
<path d="M355.0 574.0 Q381.8 594.4 411.3 622.9" fill="none" stroke="#6f4a14" stroke-width="0.95"/>
<path d="M339.9 575.0 Q368.9 584.9 395.5 589.0" fill="none" stroke="#6f4a14" stroke-width="0.95"/>
<path d="M396.0 574.5 Q408.9 592.1 407.7 612.7" fill="none" stroke="#6f4a14" stroke-width="0.95"/>
<path d="M339.6 627.7 Q329.3 642.4 326.9 651.0" fill="none" stroke="#6f4a14" stroke-width="0.95"/>
<path d="M325.5 577.5 Q350.6 593.4 368.8 605.5" fill="none" stroke="#6f4a14" stroke-width="0.95"/>
<path d="M368.2 588.4 Q330.5 599.9 307.8 606.0" fill="none" stroke="#6f4a14" stroke-width="0.95"/>
<path d="M402.6 620.6 Q419.3 626.0 425.7 640.0" fill="none" stroke="#6f4a14" stroke-width="0.95"/>
<path d="M344.4 594.1 Q363.3 603.2 385.8 621.1" fill="none" stroke="#6f4a14" stroke-width="0.95"/>
<path d="M405.8 616.3 Q381.9 630.0 354.9 641.9" fill="none" stroke="#6f4a14" stroke-width="0.95"/>
<path d="M365.7 602.9 Q389.6 606.6 401.1 610.8" fill="none" stroke="#6f4a14" stroke-width="0.95"/>
<path d="M336.4 629.5 Q319.5 636.1 313.7 651.0" fill="none" stroke="#6f4a14" stroke-width="0.95"/>
<path d="M325.5 601.0 Q299.4 604.3 284.1 612.7" fill="none" stroke="#6f4a14" stroke-width="0.95"/>
<path d="M248.0 625.9 Q264.7 643.8 282.3 651.0" fill="none" stroke="#6f4a14" stroke-width="0.95"/>
<path d="M308.0 618.6 Q288.8 625.7 278.2 642.9" fill="none" stroke="#6f4a14" stroke-width="0.95"/>
<path d="M311.7 637.4 Q326.7 646.8 334.3 651.0" fill="none" stroke="#6f4a14" stroke-width="0.95"/>
<path d="M372.1 633.7 Q351.4 645.7 344.6 651.0" fill="none" stroke="#6f4a14" stroke-width="0.95"/>
</g>
<path d="M339.4 560.4 Q337.6 563.5 337.5 567.1" fill="none" stroke="#7a5a22" stroke-width="1.0" stroke-linecap="round"/>
<path d="M344.2 567.7 Q346 564.6 349.6 564.2" fill="none" stroke="#7a5a22" stroke-width="1.0" stroke-linecap="round"/>
<path d="M360.2 555.6 Q361 559 360.8 562.3" fill="none" stroke="#7a5a22" stroke-width="1.0" stroke-linecap="round"/>
<path d="M368.8 562.7 Q369.3 560.2 371.2 558.8" fill="none" stroke="#7a5a22" stroke-width="1.0" stroke-linecap="round"/>
<path d="M350 571 Q353 572.3 355.8 571.5" fill="none" stroke="#7a5a22" stroke-width="1.0" stroke-linecap="round"/>
<path d="M369.6 571 Q371.6 569.4 374 569" fill="none" stroke="#7a5a22" stroke-width="1.0" stroke-linecap="round"/>
<path d="M382.3 561.3 Q384 558.4 387.5 557.5" fill="none" stroke="#7a5a22" stroke-width="1.0" stroke-linecap="round"/>
<path d="M393.3 564.2 Q396 562.2 399 563.4 T405.4 562.7" fill="none" stroke="#7a5a22" stroke-width="1.0" stroke-linecap="round"/>
<path d="M402.9 572 Q407.5 570.6 410.6 573.8" fill="none" stroke="#7a5a22" stroke-width="1.0" stroke-linecap="round"/>
<path d="M259.3 626.5 Q269.8 632.6 266.0 625.0 Q273.1 631.7 282.7 628.3 Q275.9 635.0 280.5 639.5 Q274.4 638.1 274.0 647.3 Q270.7 638.4 257.6 643.8 Q268.7 635.1 259.3 626.5 Z" fill="#878787" stroke="#333" stroke-width="0.7" stroke-linejoin="round"/>
<path d="M298.3 608.4 Q304.3 611.7 313.0 605.8 Q307.8 614.3 315.5 618.7 Q307.0 617.7 310.4 628.3 Q303.0 618.7 290.5 621.3 Q300.8 614.5 298.3 608.4 Z" fill="#878787" stroke="#333" stroke-width="0.7" stroke-linejoin="round"/>
<path d="M319.0 618.7 Q328.0 623.8 337.2 620.5 Q331.3 626.8 339.0 631.0 Q330.3 629.9 331.1 636.9 Q326.7 630.9 318.1 635.2 Q324.1 627.2 319.0 618.7 Z" fill="#878787" stroke="#333" stroke-width="0.7" stroke-linejoin="round"/>
<path d="M366.0 621.0 Q373.7 625.9 378.0 617.5 Q377.0 626.7 386.5 624.0 Q378.2 630.0 383.0 637.0 Q375.7 632.8 372.0 641.0 Q372.3 632.1 363.0 634.0 Q371.1 628.7 366.0 621.0 Z" fill="#878787" stroke="#333" stroke-width="0.7" stroke-linejoin="round"/>
<path d="M381.0 587.0 Q389.2 591.2 392.0 583.5 Q392.6 591.6 401.5 589.0 Q394.1 594.8 398.0 600.0 Q391.7 597.9 388.0 605.0 Q388.1 597.1 379.5 598.0 Q387.0 593.9 381.0 587.0 Z" fill="#878787" stroke="#333" stroke-width="0.7" stroke-linejoin="round"/>
<path d="M300 600 Q315 612 342 640" fill="none" stroke="#6f4a14" stroke-width="0.95"/>
<path d="M320 615 Q350 620 385 600" fill="none" stroke="#6f4a14" stroke-width="0.95"/>
<path d="M360 640 Q380 615 402 585" fill="none" stroke="#6f4a14" stroke-width="0.95"/>
<path d="M262 642 Q300 640 330 632" fill="none" stroke="#6f4a14" stroke-width="0.95"/>
<circle cx="103.0" cy="606.4" r="12.2" fill="#979797" stroke="#5a5a5a" stroke-width="0.7"/>
<rect x="98.6" y="580.2" width="7.8" height="16.4" fill="#66e82a" stroke="#1f6b10" stroke-width="0.7"/>
<text transform="translate(104.3,588.4) rotate(-90)" font-size="4.6" font-weight="bold" fill="#1f6b10" text-anchor="middle">GPIb</text>
<rect x="115" y="602.9" width="16.8" height="7.8" fill="#66e82a" stroke="#1f6b10" stroke-width="0.7"/>
<text x="123.2" y="609.0" font-size="4.6" font-weight="bold" fill="#1f6b10" text-anchor="middle">GPIb</text>
<text x="103.0" y="608.2" font-size="5.4" fill="#dcdcdc" text-anchor="middle">platelet</text>
<path d="M89.10 563.26 L96.34 568.22 L104.33 564.59 L101.84 573.01 L107.77 579.48 L98.99 579.71 L94.67 587.35 L91.73 579.08 L83.13 577.32 L90.09 571.98 Z" fill="#2a2aa8" stroke="#15155e" stroke-width="0.8" stroke-linejoin="miter"/>
<text transform="translate(95.8,574.4) rotate(62)" y="1.9" font-size="5.3" font-weight="bold" fill="#fff" text-anchor="middle">AB002</text>
<path d="M146.10 600.12 L145.57 608.88 L152.80 613.86 L144.31 616.06 L141.81 624.47 L137.09 617.07 L128.32 617.30 L133.89 610.52 L130.97 602.25 L139.14 605.46 Z" fill="#2a2aa8" stroke="#15155e" stroke-width="0.8" stroke-linejoin="miter"/>
<text transform="translate(140.0,611.6) rotate(-24)" y="1.9" font-size="5.3" font-weight="bold" fill="#fff" text-anchor="middle">AB002</text>
<path d="M80.77 624.96 L85.61 632.28 L94.38 631.90 L88.92 638.77 L91.99 646.99 L83.77 643.92 L76.90 649.38 L77.28 640.61 L69.96 635.77 L78.42 633.42 Z" fill="#2a2aa8" stroke="#15155e" stroke-width="0.8" stroke-linejoin="miter"/>
<text transform="translate(82.8,637.8) rotate(0)" y="1.9" font-size="5.3" font-weight="bold" fill="#fff" text-anchor="middle">AB002</text>
<text x="118.6" y="566.2" font-size="6.7" font-weight="bold" fill="#111" textLength="51.0" lengthAdjust="spacingAndGlyphs">ANTI-PLATELET</text>
<text x="149.6" y="591.2" font-size="6.7" font-weight="bold" fill="#111" textLength="67.9" lengthAdjust="spacingAndGlyphs">ANTICOAGULATION</text>
<text x="104.9" y="651.7" font-size="6.7" font-weight="bold" fill="#111" textLength="63.6" lengthAdjust="spacingAndGlyphs">CYTOPROTECTION</text>
<text x="237.5" y="591.9" font-size="6.7" font-weight="bold" fill="#111" textLength="45.6" lengthAdjust="spacingAndGlyphs">FIBRINOLYSIS</text>
<path d="M218.6 619.8 L193.5 599.3" fill="none" stroke="#e3a533" stroke-width="0.9"/>
<path d="M191.2 597.4 L196.6 598.9 L194.2 599.9 L193.8 602.4 Z" fill="#e3a533"/>
<path d="M218.4 621.2 Q198 621.5 190.6 631.6" fill="none" stroke="#e3a533" stroke-width="0.9"/>
<path d="M189.0 634.0 L189.9 628.6 L191.3 630.8 L193.9 630.9 Z" fill="#e3a533"/>
<path d="M292.2 575.2 Q292.5 581 287.4 583.2" fill="none" stroke="#e3a533" stroke-width="0.9"/>
<path d="M285.0 584.0 L288.6 580.9 L288.3 583.0 L290.2 584.6 Z" fill="#e3a533"/>
<line x1="230.70" y1="615.40" x2="230.70" y2="567.00" stroke="#c0334a" stroke-width="0.9" />
<line x1="228.00" y1="567.00" x2="233.60" y2="567.00" stroke="#c0334a" stroke-width="0.9" />
<line x1="277.50" y1="560.70" x2="265.60" y2="560.70" stroke="#c0334a" stroke-width="0.9" />
<line x1="265.60" y1="558.20" x2="265.60" y2="563.30" stroke="#c0334a" stroke-width="0.9" />
<line x1="260.80" y1="576.40" x2="260.80" y2="583.70" stroke="#c0334a" stroke-width="0.9" />
<line x1="257.60" y1="583.70" x2="264.00" y2="583.70" stroke="#c0334a" stroke-width="0.9" />
<g transform="translate(230.2,550.0) rotate(0)"><rect x="-3.2" y="-6.8" width="6.4" height="13.6" rx="3.2" fill="#eaea24" stroke="#55550a" stroke-width="0.7"/><text transform="rotate(90)" y="1.6" font-size="4.4" font-weight="bold" fill="#44440a" text-anchor="middle">TM</text></g>
<g transform="translate(291.3,550.0) rotate(6)"><rect x="-3.2" y="-6.8" width="6.4" height="13.6" rx="3.2" fill="#eaea24" stroke="#55550a" stroke-width="0.7"/><text transform="rotate(90)" y="1.6" font-size="4.4" font-weight="bold" fill="#44440a" text-anchor="middle">TM</text></g>
<text x="216.20" y="563.00" font-size="7.1" text-anchor="start" font-weight="normal" fill="#3a3a3a" >thrombin</text>
<line x1="246.40" y1="560.70" x2="253.00" y2="560.70" stroke="#222" stroke-width="0.8" />
<path d="M256.4 560.7 L251.6 558.6 L252.8 560.7 L251.6 562.8 Z" fill="#222"/>
<text x="253.60" y="554.40" font-size="7.2" text-anchor="start" font-weight="normal" fill="#3a3a3a" >TAFI</text>
<text x="253.60" y="573.70" font-size="7.2" text-anchor="start" font-weight="normal" fill="#3a3a3a" >TAFIa</text>
<line x1="260.80" y1="556.40" x2="260.80" y2="563.40" stroke="#222" stroke-width="0.8" />
<path d="M260.8 566.6 L258.7 561.8 L260.8 563.0 L262.9 561.8 Z" fill="#222"/>
<path d="M287.75 550.82 L292.32 558.00 L300.82 557.78 L295.41 564.34 L298.25 572.36 L290.34 569.24 L283.58 574.43 L284.11 565.93 L277.09 561.11 L285.33 558.98 Z" fill="#2a2aa8" stroke="#15155e" stroke-width="0.8" stroke-linejoin="miter"/>
<text transform="translate(289.5,563.3) rotate(0)" y="1.9" font-size="5.3" font-weight="bold" fill="#fff" text-anchor="middle">AB002</text>
<path d="M276.08 592.59 L283.96 595.29 L290.44 590.05 L290.30 598.38 L297.28 602.93 L289.32 605.37 L287.15 613.41 L282.37 606.59 L274.05 607.02 L279.06 600.36 Z" fill="#2a2aa8" stroke="#15155e" stroke-width="0.8" stroke-linejoin="miter"/>
<text transform="translate(285.0,601.2) rotate(-50)" y="1.9" font-size="5.3" font-weight="bold" fill="#fff" text-anchor="middle">AB002</text>
<path d="M261.80 599.27 L266.10 606.40 L274.43 606.56 L268.97 612.85 L271.40 620.81 L263.73 617.57 L256.90 622.34 L257.62 614.04 L250.97 609.02 L259.09 607.14 Z" fill="#2a2aa8" stroke="#15155e" stroke-width="0.8" stroke-linejoin="miter"/>
<text transform="translate(263.1,611.6) rotate(0)" y="1.9" font-size="5.3" font-weight="bold" fill="#fff" text-anchor="middle">AB002</text>
<path d="M251.07 627.65 L250.16 635.75 L256.44 640.95 L248.46 642.60 L245.45 650.17 L241.42 643.09 L233.29 642.57 L238.78 636.55 L236.76 628.65 L244.18 632.01 Z" fill="#2a2aa8" stroke="#15155e" stroke-width="0.8" stroke-linejoin="miter"/>
<text transform="translate(244.6,638.0) rotate(-80)" y="1.9" font-size="5.3" font-weight="bold" fill="#fff" text-anchor="middle">AB002</text>
<g transform="translate(257.8,635.1) rotate(0)"><rect x="-5.8" y="-3.15" width="11.6" height="6.3" rx="3.1" fill="#eaea24" stroke="#55550a" stroke-width="0.7"/><text transform="rotate(0)" y="1.6" font-size="4.4" font-weight="bold" fill="#44440a" text-anchor="middle">TM</text></g>
<g transform="translate(267.6,625.6) rotate(8)"><rect x="-3.1" y="-6.3" width="6.2" height="12.6" rx="3.1" fill="#eaea24" stroke="#55550a" stroke-width="0.7"/><text transform="rotate(90)" y="1.6" font-size="4.4" font-weight="bold" fill="#44440a" text-anchor="middle">TM</text></g>
<g transform="translate(296.0,609.2) rotate(-45)"><rect x="-3.1" y="-6.3" width="6.2" height="12.6" rx="3.1" fill="#eaea24" stroke="#55550a" stroke-width="0.7"/><text transform="rotate(90)" y="1.6" font-size="4.4" font-weight="bold" fill="#44440a" text-anchor="middle">TM</text></g>
<text x="229.30" y="624.80" font-size="7.6" text-anchor="middle" font-weight="bold" fill="#111" >APC</text>
<text x="204.40" y="648.00" font-size="7.1" text-anchor="start" font-weight="normal" fill="#3a3a3a" >Protein C</text>
<line x1="217.60" y1="641.20" x2="225.40" y2="629.60" stroke="#222" stroke-width="0.8" />
<path d="M227.2 626.8 L226.6 632.0 L225.2 629.9 L222.8 629.6 Z" fill="#222"/>
<line x1="236.40" y1="637.60" x2="228.60" y2="634.00" stroke="#222" stroke-width="0.8" />
<path d="M225.4 632.6 L230.6 632.8 L228.9 634.2 L228.9 636.6 Z" fill="#222"/>
<path d="M173.2 641.4 L175.4 641.4 Q177.6 641.6 177.6 646 L177.6 655.5 Q179.47 662.5 181.35 655.5 L181.35 650.5 Q183.22 643.5 185.10 650.5 L185.10 655.5 Q186.97 662.5 188.85 655.5 L188.85 650.5 Q190.72 643.5 192.60 650.5 L192.60 655.5 Q194.47 662.5 196.35 655.5 L196.35 650.5 Q198.22 643.5 200.10 650.5 L200.10 655.5 Q201.97 662.5 203.85 655.5 L203.85 650.5 Q204.85 660.5 211.05 662.6" fill="none" stroke="#111" stroke-width="1.3" stroke-linecap="round" stroke-linejoin="round"/>
<text x="170.60" y="643.00" font-size="4.6" text-anchor="middle" font-weight="normal" fill="#222" >N</text>
<text x="212.80" y="665.60" font-size="4.6" text-anchor="middle" font-weight="normal" fill="#222" >C</text>
<text x="191.20" y="645.00" font-size="7.0" text-anchor="middle" font-weight="normal" fill="#333" >PAR1</text>
<g fill="#111" stroke="none"><path d="M334.2 574.0 L319.9 580.2 L311.1 586.6 L311.9 588.0 L321.8 583.5 Z"/><path d="M334.2 589.9 L321.6 580.7 L312.4 576.9 L311.6 578.3 L319.7 584.1 Z"/></g><g fill="none" stroke="#111" stroke-width="1.1"><ellipse cx="307.4" cy="575.6" rx="5.0" ry="2.7" transform="rotate(24 307.4 575.6)"/><ellipse cx="307.4" cy="589.2" rx="5.2" ry="2.7" transform="rotate(-32 307.4 589.2)"/></g>
<path d="M0 0H520V688H0Z M1 1V686.9H519V1Z" fill="#000" fill-rule="evenodd"/>
</svg>
</body></html>
